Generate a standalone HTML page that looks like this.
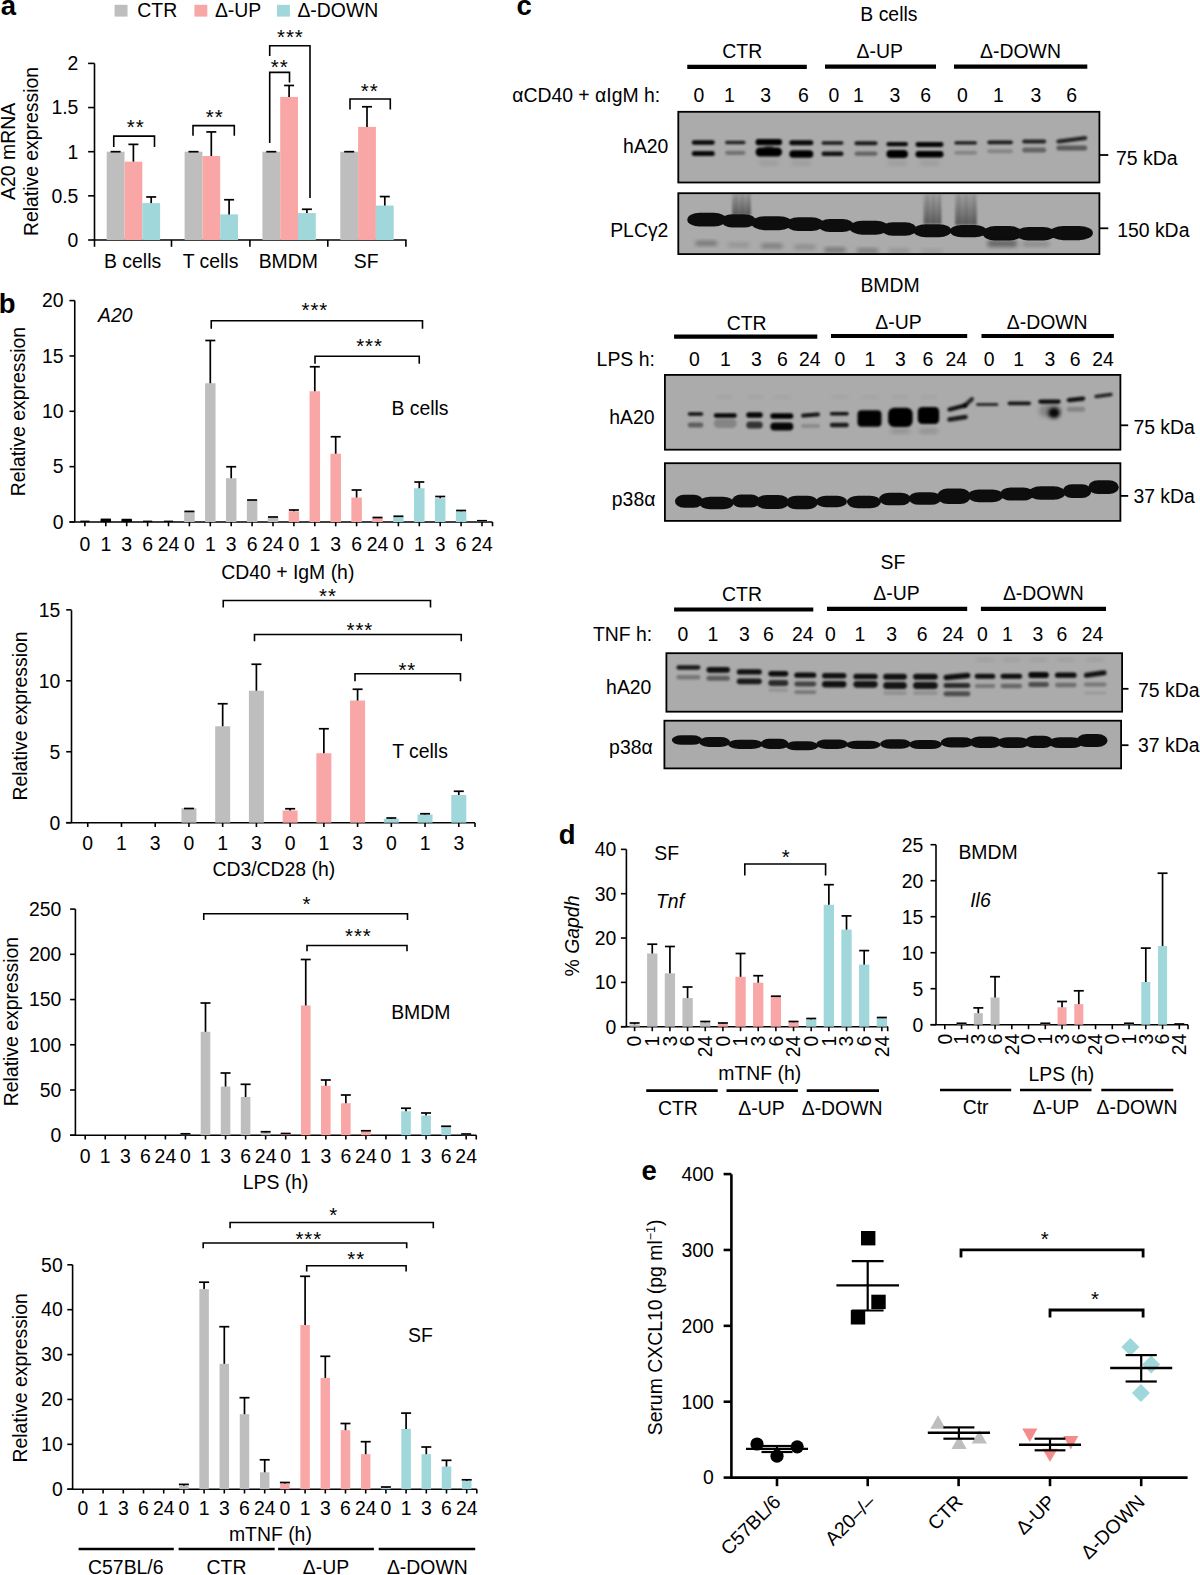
<!DOCTYPE html><html><head><meta charset="utf-8"><style>html,body{margin:0;padding:0;background:#fff;}svg{display:block;}text{font-family:"Liberation Sans",sans-serif;font-size:19.4px;fill:#000;}</style></head><body>
<svg width="1200" height="1575" viewBox="0 0 1200 1575">
<defs><filter id="bl" x="-20%" y="-50%" width="140%" height="200%"><feGaussianBlur stdDeviation="1.2"/></filter><filter id="bl2" x="-20%" y="-50%" width="140%" height="200%"><feGaussianBlur stdDeviation="2"/></filter><filter id="bl3" x="-20%" y="-50%" width="140%" height="200%"><feGaussianBlur stdDeviation="0.7"/></filter></defs>
<rect width="1200" height="1575" fill="#fff"/>
<text x="0.80" y="14.80" style="font-size:27.5px" font-weight="bold">a</text>
<text x="-1.20" y="312.50" style="font-size:27.5px" font-weight="bold">b</text>
<text x="516.60" y="14.80" style="font-size:27.5px" font-weight="bold">c</text>
<text x="558.80" y="843.50" style="font-size:27.5px" font-weight="bold">d</text>
<text x="641.50" y="1179.70" style="font-size:27.5px" font-weight="bold">e</text>
<rect x="114.60" y="4.80" width="12.90" height="11.80" fill="#bebebe"/>
<text x="137.30" y="16.70">CTR</text>
<rect x="194.40" y="4.80" width="12.90" height="11.80" fill="#f8a6a6"/>
<text x="214.90" y="16.70">Δ-UP</text>
<rect x="277.00" y="4.80" width="12.90" height="11.80" fill="#a0d7db"/>
<text x="297.40" y="16.70">Δ-DOWN</text>
<line x1="94.50" y1="240.00" x2="94.50" y2="63.40" stroke="#000" stroke-width="1.6"/>
<line x1="88.10" y1="240.00" x2="94.50" y2="240.00" stroke="#000" stroke-width="1.6"/>
<text x="78.40" y="246.80" text-anchor="end">0</text>
<line x1="88.10" y1="195.85" x2="94.50" y2="195.85" stroke="#000" stroke-width="1.6"/>
<text x="78.40" y="202.65" text-anchor="end">0.5</text>
<line x1="88.10" y1="151.70" x2="94.50" y2="151.70" stroke="#000" stroke-width="1.6"/>
<text x="78.40" y="158.50" text-anchor="end">1</text>
<line x1="88.10" y1="107.55" x2="94.50" y2="107.55" stroke="#000" stroke-width="1.6"/>
<text x="78.40" y="114.35" text-anchor="end">1.5</text>
<line x1="88.10" y1="63.40" x2="94.50" y2="63.40" stroke="#000" stroke-width="1.6"/>
<text x="78.40" y="70.20" text-anchor="end">2</text>
<line x1="94.50" y1="240.00" x2="406.60" y2="240.00" stroke="#000" stroke-width="1.6"/>
<line x1="94.50" y1="240.00" x2="94.50" y2="246.80" stroke="#000" stroke-width="1.6"/>
<line x1="171.50" y1="240.00" x2="171.50" y2="246.80" stroke="#000" stroke-width="1.6"/>
<line x1="249.90" y1="240.00" x2="249.90" y2="246.80" stroke="#000" stroke-width="1.6"/>
<line x1="327.80" y1="240.00" x2="327.80" y2="246.80" stroke="#000" stroke-width="1.6"/>
<line x1="405.90" y1="240.00" x2="405.90" y2="246.80" stroke="#000" stroke-width="1.6"/>
<rect x="106.70" y="151.70" width="17.80" height="88.30" fill="#bebebe"/>
<line x1="110.60" y1="151.70" x2="120.60" y2="151.70" stroke="#000" stroke-width="1.7"/>
<rect x="124.50" y="161.68" width="17.80" height="78.32" fill="#f8a6a6"/>
<line x1="133.40" y1="161.68" x2="133.40" y2="144.37" stroke="#000" stroke-width="1.7"/>
<line x1="128.40" y1="144.37" x2="138.40" y2="144.37" stroke="#000" stroke-width="1.7"/>
<rect x="142.30" y="203.09" width="17.80" height="36.91" fill="#a0d7db"/>
<line x1="151.20" y1="203.09" x2="151.20" y2="196.95" stroke="#000" stroke-width="1.7"/>
<line x1="146.20" y1="196.95" x2="156.20" y2="196.95" stroke="#000" stroke-width="1.7"/>
<rect x="184.60" y="151.70" width="17.80" height="88.30" fill="#bebebe"/>
<line x1="188.50" y1="151.70" x2="198.50" y2="151.70" stroke="#000" stroke-width="1.7"/>
<rect x="202.40" y="156.03" width="17.80" height="83.97" fill="#f8a6a6"/>
<line x1="211.30" y1="156.03" x2="211.30" y2="131.92" stroke="#000" stroke-width="1.7"/>
<line x1="206.30" y1="131.92" x2="216.30" y2="131.92" stroke="#000" stroke-width="1.7"/>
<rect x="220.20" y="214.39" width="17.80" height="25.61" fill="#a0d7db"/>
<line x1="229.10" y1="214.39" x2="229.10" y2="199.74" stroke="#000" stroke-width="1.7"/>
<line x1="224.10" y1="199.74" x2="234.10" y2="199.74" stroke="#000" stroke-width="1.7"/>
<rect x="262.40" y="151.70" width="17.80" height="88.30" fill="#bebebe"/>
<line x1="266.30" y1="151.70" x2="276.30" y2="151.70" stroke="#000" stroke-width="1.7"/>
<rect x="280.20" y="96.95" width="17.80" height="143.05" fill="#f8a6a6"/>
<line x1="289.10" y1="96.95" x2="289.10" y2="85.47" stroke="#000" stroke-width="1.7"/>
<line x1="284.10" y1="85.47" x2="294.10" y2="85.47" stroke="#000" stroke-width="1.7"/>
<rect x="298.00" y="213.07" width="17.80" height="26.93" fill="#a0d7db"/>
<line x1="306.90" y1="213.07" x2="306.90" y2="209.27" stroke="#000" stroke-width="1.7"/>
<line x1="301.90" y1="209.27" x2="311.90" y2="209.27" stroke="#000" stroke-width="1.7"/>
<rect x="340.30" y="151.70" width="17.80" height="88.30" fill="#bebebe"/>
<line x1="344.20" y1="151.70" x2="354.20" y2="151.70" stroke="#000" stroke-width="1.7"/>
<rect x="358.10" y="126.89" width="17.80" height="113.11" fill="#f8a6a6"/>
<line x1="367.00" y1="126.89" x2="367.00" y2="106.76" stroke="#000" stroke-width="1.7"/>
<line x1="362.00" y1="106.76" x2="372.00" y2="106.76" stroke="#000" stroke-width="1.7"/>
<rect x="375.90" y="205.56" width="17.80" height="34.44" fill="#a0d7db"/>
<line x1="384.80" y1="205.56" x2="384.80" y2="196.56" stroke="#000" stroke-width="1.7"/>
<line x1="379.80" y1="196.56" x2="389.80" y2="196.56" stroke="#000" stroke-width="1.7"/>
<text x="132.60" y="268.30" text-anchor="middle">B cells</text>
<text x="210.50" y="268.30" text-anchor="middle">T cells</text>
<text x="288.30" y="268.30" text-anchor="middle">BMDM</text>
<text x="366.20" y="268.30" text-anchor="middle">SF</text>
<text x="15.00" y="151.40" text-anchor="middle" transform="rotate(-90 15.00 151.40)">A20 mRNA</text>
<text x="38.00" y="151.50" text-anchor="middle" transform="rotate(-90 38.00 151.50)">Relative expression</text>
<path d="M113.75 147.00V136.10H154.50V147.00" stroke="#000" stroke-width="1.6" fill="none"/>
<text x="135.65" y="134.14" style="font-size:20.5px" text-anchor="middle" letter-spacing="0.9">**</text>
<path d="M193.00 135.70V125.60H234.30V135.70" stroke="#000" stroke-width="1.6" fill="none"/>
<text x="214.65" y="123.94" style="font-size:20.5px" text-anchor="middle" letter-spacing="0.9">**</text>
<path d="M269.70 56.00V45.80H310.00V197.90" stroke="#000" stroke-width="1.6" fill="none"/>
<text x="290.35" y="44.34" style="font-size:20.5px" text-anchor="middle" letter-spacing="0.9">***</text>
<path d="M269.70 142.90V72.40H289.50V82.50" stroke="#000" stroke-width="1.6" fill="none"/>
<text x="279.75" y="73.64" style="font-size:20.5px" text-anchor="middle" letter-spacing="0.9">**</text>
<path d="M350.00 109.50V99.00H390.30V109.50" stroke="#000" stroke-width="1.6" fill="none"/>
<text x="369.65" y="98.14" style="font-size:20.5px" text-anchor="middle" letter-spacing="0.9">**</text>
<line x1="74.75" y1="522.00" x2="74.75" y2="300.60" stroke="#000" stroke-width="1.6"/>
<line x1="69.45" y1="522.00" x2="74.75" y2="522.00" stroke="#000" stroke-width="1.6"/>
<text x="63.50" y="528.80" text-anchor="end">0</text>
<line x1="69.45" y1="466.65" x2="74.75" y2="466.65" stroke="#000" stroke-width="1.6"/>
<text x="63.50" y="473.45" text-anchor="end">5</text>
<line x1="69.45" y1="411.30" x2="74.75" y2="411.30" stroke="#000" stroke-width="1.6"/>
<text x="63.50" y="418.10" text-anchor="end">10</text>
<line x1="69.45" y1="355.95" x2="74.75" y2="355.95" stroke="#000" stroke-width="1.6"/>
<text x="63.50" y="362.75" text-anchor="end">15</text>
<line x1="69.45" y1="300.60" x2="74.75" y2="300.60" stroke="#000" stroke-width="1.6"/>
<text x="63.50" y="307.40" text-anchor="end">20</text>
<line x1="69.45" y1="522.00" x2="492.50" y2="522.00" stroke="#000" stroke-width="1.6"/>
<line x1="84.90" y1="522.00" x2="84.90" y2="526.30" stroke="#000" stroke-width="1.6"/>
<line x1="105.80" y1="522.00" x2="105.80" y2="526.30" stroke="#000" stroke-width="1.6"/>
<line x1="126.70" y1="522.00" x2="126.70" y2="526.30" stroke="#000" stroke-width="1.6"/>
<line x1="147.60" y1="522.00" x2="147.60" y2="526.30" stroke="#000" stroke-width="1.6"/>
<line x1="168.50" y1="522.00" x2="168.50" y2="526.30" stroke="#000" stroke-width="1.6"/>
<line x1="189.40" y1="522.00" x2="189.40" y2="526.30" stroke="#000" stroke-width="1.6"/>
<line x1="210.30" y1="522.00" x2="210.30" y2="526.30" stroke="#000" stroke-width="1.6"/>
<line x1="231.20" y1="522.00" x2="231.20" y2="526.30" stroke="#000" stroke-width="1.6"/>
<line x1="252.10" y1="522.00" x2="252.10" y2="526.30" stroke="#000" stroke-width="1.6"/>
<line x1="273.00" y1="522.00" x2="273.00" y2="526.30" stroke="#000" stroke-width="1.6"/>
<line x1="293.90" y1="522.00" x2="293.90" y2="526.30" stroke="#000" stroke-width="1.6"/>
<line x1="314.80" y1="522.00" x2="314.80" y2="526.30" stroke="#000" stroke-width="1.6"/>
<line x1="335.70" y1="522.00" x2="335.70" y2="526.30" stroke="#000" stroke-width="1.6"/>
<line x1="356.60" y1="522.00" x2="356.60" y2="526.30" stroke="#000" stroke-width="1.6"/>
<line x1="377.50" y1="522.00" x2="377.50" y2="526.30" stroke="#000" stroke-width="1.6"/>
<line x1="398.40" y1="522.00" x2="398.40" y2="526.30" stroke="#000" stroke-width="1.6"/>
<line x1="419.30" y1="522.00" x2="419.30" y2="526.30" stroke="#000" stroke-width="1.6"/>
<line x1="440.20" y1="522.00" x2="440.20" y2="526.30" stroke="#000" stroke-width="1.6"/>
<line x1="461.10" y1="522.00" x2="461.10" y2="526.30" stroke="#000" stroke-width="1.6"/>
<line x1="482.00" y1="522.00" x2="482.00" y2="526.30" stroke="#000" stroke-width="1.6"/>
<line x1="492.50" y1="522.00" x2="492.50" y2="526.30" stroke="#000" stroke-width="1.6"/>
<rect x="100.55" y="519.40" width="10.50" height="2.60" fill="#000"/>
<line x1="100.80" y1="519.40" x2="110.80" y2="519.40" stroke="#000" stroke-width="1.7"/>
<rect x="121.45" y="519.60" width="10.50" height="2.40" fill="#000"/>
<line x1="121.70" y1="519.60" x2="131.70" y2="519.60" stroke="#000" stroke-width="1.7"/>
<rect x="184.15" y="511.40" width="10.50" height="10.60" fill="#bebebe"/>
<line x1="184.40" y1="511.40" x2="194.40" y2="511.40" stroke="#000" stroke-width="1.7"/>
<rect x="205.05" y="383.25" width="10.50" height="138.75" fill="#bebebe"/>
<line x1="210.30" y1="383.25" x2="210.30" y2="340.50" stroke="#000" stroke-width="1.7"/>
<line x1="205.30" y1="340.50" x2="215.30" y2="340.50" stroke="#000" stroke-width="1.7"/>
<rect x="225.95" y="478.25" width="10.50" height="43.75" fill="#bebebe"/>
<line x1="231.20" y1="478.25" x2="231.20" y2="466.75" stroke="#000" stroke-width="1.7"/>
<line x1="226.20" y1="466.75" x2="236.20" y2="466.75" stroke="#000" stroke-width="1.7"/>
<rect x="246.85" y="500.00" width="10.50" height="22.00" fill="#bebebe"/>
<line x1="247.10" y1="500.00" x2="257.10" y2="500.00" stroke="#000" stroke-width="1.7"/>
<rect x="267.75" y="517.50" width="10.50" height="4.50" fill="#bebebe"/>
<line x1="268.00" y1="517.00" x2="278.00" y2="517.00" stroke="#000" stroke-width="1.7"/>
<rect x="288.65" y="511.25" width="10.50" height="10.75" fill="#f8a6a6"/>
<line x1="293.90" y1="511.25" x2="293.90" y2="510.00" stroke="#000" stroke-width="1.7"/>
<line x1="288.90" y1="510.00" x2="298.90" y2="510.00" stroke="#000" stroke-width="1.7"/>
<rect x="309.55" y="391.25" width="10.50" height="130.75" fill="#f8a6a6"/>
<line x1="314.80" y1="391.25" x2="314.80" y2="366.75" stroke="#000" stroke-width="1.7"/>
<line x1="309.80" y1="366.75" x2="319.80" y2="366.75" stroke="#000" stroke-width="1.7"/>
<rect x="330.45" y="453.75" width="10.50" height="68.25" fill="#f8a6a6"/>
<line x1="335.70" y1="453.75" x2="335.70" y2="436.75" stroke="#000" stroke-width="1.7"/>
<line x1="330.70" y1="436.75" x2="340.70" y2="436.75" stroke="#000" stroke-width="1.7"/>
<rect x="351.35" y="497.50" width="10.50" height="24.50" fill="#f8a6a6"/>
<line x1="356.60" y1="497.50" x2="356.60" y2="490.00" stroke="#000" stroke-width="1.7"/>
<line x1="351.60" y1="490.00" x2="361.60" y2="490.00" stroke="#000" stroke-width="1.7"/>
<rect x="372.25" y="518.00" width="10.50" height="4.00" fill="#f8a6a6"/>
<line x1="372.50" y1="517.50" x2="382.50" y2="517.50" stroke="#000" stroke-width="1.7"/>
<rect x="393.15" y="517.00" width="10.50" height="5.00" fill="#a0d7db"/>
<line x1="398.40" y1="517.00" x2="398.40" y2="516.25" stroke="#000" stroke-width="1.7"/>
<line x1="393.40" y1="516.25" x2="403.40" y2="516.25" stroke="#000" stroke-width="1.7"/>
<rect x="414.05" y="488.25" width="10.50" height="33.75" fill="#a0d7db"/>
<line x1="419.30" y1="488.25" x2="419.30" y2="482.00" stroke="#000" stroke-width="1.7"/>
<line x1="414.30" y1="482.00" x2="424.30" y2="482.00" stroke="#000" stroke-width="1.7"/>
<rect x="434.95" y="498.25" width="10.50" height="23.75" fill="#a0d7db"/>
<line x1="440.20" y1="498.25" x2="440.20" y2="496.50" stroke="#000" stroke-width="1.7"/>
<line x1="435.20" y1="496.50" x2="445.20" y2="496.50" stroke="#000" stroke-width="1.7"/>
<rect x="455.85" y="511.25" width="10.50" height="10.75" fill="#a0d7db"/>
<line x1="461.10" y1="511.25" x2="461.10" y2="510.50" stroke="#000" stroke-width="1.7"/>
<line x1="456.10" y1="510.50" x2="466.10" y2="510.50" stroke="#000" stroke-width="1.7"/>
<rect x="476.75" y="521.25" width="10.50" height="0.75" fill="#a0d7db"/>
<line x1="477.00" y1="520.75" x2="487.00" y2="520.75" stroke="#000" stroke-width="1.7"/>
<text x="84.90" y="550.50" text-anchor="middle">0</text>
<text x="105.80" y="550.50" text-anchor="middle">1</text>
<text x="126.70" y="550.50" text-anchor="middle">3</text>
<text x="147.60" y="550.50" text-anchor="middle">6</text>
<text x="168.50" y="550.50" text-anchor="middle">24</text>
<text x="189.40" y="550.50" text-anchor="middle">0</text>
<text x="210.30" y="550.50" text-anchor="middle">1</text>
<text x="231.20" y="550.50" text-anchor="middle">3</text>
<text x="252.10" y="550.50" text-anchor="middle">6</text>
<text x="273.00" y="550.50" text-anchor="middle">24</text>
<text x="293.90" y="550.50" text-anchor="middle">0</text>
<text x="314.80" y="550.50" text-anchor="middle">1</text>
<text x="335.70" y="550.50" text-anchor="middle">3</text>
<text x="356.60" y="550.50" text-anchor="middle">6</text>
<text x="377.50" y="550.50" text-anchor="middle">24</text>
<text x="398.40" y="550.50" text-anchor="middle">0</text>
<text x="419.30" y="550.50" text-anchor="middle">1</text>
<text x="440.20" y="550.50" text-anchor="middle">3</text>
<text x="461.10" y="550.50" text-anchor="middle">6</text>
<text x="482.00" y="550.50" text-anchor="middle">24</text>
<text x="25.50" y="411.60" text-anchor="middle" transform="rotate(-90 25.50 411.60)">Relative expression</text>
<rect x="101.20" y="519.30" width="9.20" height="2.80" fill="#000"/>
<rect x="122.10" y="519.30" width="9.20" height="2.80" fill="#000"/>
<rect x="80.30" y="520.60" width="9.20" height="1.40" fill="#000"/>
<rect x="143.00" y="520.60" width="9.20" height="1.40" fill="#000"/>
<rect x="163.90" y="520.60" width="9.20" height="1.40" fill="#000"/>
<text x="98.00" y="321.50" font-style="italic">A20</text>
<text x="420.00" y="415.00" text-anchor="middle">B cells</text>
<text x="287.80" y="578.60" text-anchor="middle">CD40 + IgM (h)</text>
<path d="M211.25 328.75V320.75H422.50V328.75" stroke="#000" stroke-width="1.6" fill="none"/>
<text x="314.85" y="317.04" style="font-size:20.5px" text-anchor="middle" letter-spacing="0.9">***</text>
<path d="M315.00 363.75V356.25H419.25V363.75" stroke="#000" stroke-width="1.6" fill="none"/>
<text x="369.55" y="353.34" style="font-size:20.5px" text-anchor="middle" letter-spacing="0.9">***</text>
<line x1="71.50" y1="822.70" x2="71.50" y2="610.20" stroke="#000" stroke-width="1.6"/>
<line x1="66.20" y1="822.70" x2="71.50" y2="822.70" stroke="#000" stroke-width="1.6"/>
<text x="60.30" y="829.50" text-anchor="end">0</text>
<line x1="66.20" y1="751.75" x2="71.50" y2="751.75" stroke="#000" stroke-width="1.6"/>
<text x="60.30" y="758.55" text-anchor="end">5</text>
<line x1="66.20" y1="680.80" x2="71.50" y2="680.80" stroke="#000" stroke-width="1.6"/>
<text x="60.30" y="687.60" text-anchor="end">10</text>
<line x1="66.20" y1="609.85" x2="71.50" y2="609.85" stroke="#000" stroke-width="1.6"/>
<text x="60.30" y="616.65" text-anchor="end">15</text>
<line x1="66.20" y1="822.70" x2="475.00" y2="822.70" stroke="#000" stroke-width="1.6"/>
<line x1="87.75" y1="822.70" x2="87.75" y2="827.00" stroke="#000" stroke-width="1.6"/>
<line x1="121.48" y1="822.70" x2="121.48" y2="827.00" stroke="#000" stroke-width="1.6"/>
<line x1="155.21" y1="822.70" x2="155.21" y2="827.00" stroke="#000" stroke-width="1.6"/>
<line x1="188.94" y1="822.70" x2="188.94" y2="827.00" stroke="#000" stroke-width="1.6"/>
<line x1="222.67" y1="822.70" x2="222.67" y2="827.00" stroke="#000" stroke-width="1.6"/>
<line x1="256.40" y1="822.70" x2="256.40" y2="827.00" stroke="#000" stroke-width="1.6"/>
<line x1="290.13" y1="822.70" x2="290.13" y2="827.00" stroke="#000" stroke-width="1.6"/>
<line x1="323.86" y1="822.70" x2="323.86" y2="827.00" stroke="#000" stroke-width="1.6"/>
<line x1="357.59" y1="822.70" x2="357.59" y2="827.00" stroke="#000" stroke-width="1.6"/>
<line x1="391.32" y1="822.70" x2="391.32" y2="827.00" stroke="#000" stroke-width="1.6"/>
<line x1="425.05" y1="822.70" x2="425.05" y2="827.00" stroke="#000" stroke-width="1.6"/>
<line x1="458.78" y1="822.70" x2="458.78" y2="827.00" stroke="#000" stroke-width="1.6"/>
<line x1="475.00" y1="822.70" x2="475.00" y2="827.00" stroke="#000" stroke-width="1.6"/>
<rect x="181.44" y="808.20" width="15.00" height="14.50" fill="#bebebe"/>
<line x1="183.94" y1="808.50" x2="193.94" y2="808.50" stroke="#000" stroke-width="1.7"/>
<rect x="215.17" y="726.25" width="15.00" height="96.45" fill="#bebebe"/>
<line x1="222.67" y1="726.25" x2="222.67" y2="703.75" stroke="#000" stroke-width="1.7"/>
<line x1="217.67" y1="703.75" x2="227.67" y2="703.75" stroke="#000" stroke-width="1.7"/>
<rect x="248.90" y="690.75" width="15.00" height="131.95" fill="#bebebe"/>
<line x1="256.40" y1="690.75" x2="256.40" y2="664.25" stroke="#000" stroke-width="1.7"/>
<line x1="251.40" y1="664.25" x2="261.40" y2="664.25" stroke="#000" stroke-width="1.7"/>
<rect x="282.63" y="810.50" width="15.00" height="12.20" fill="#f8a6a6"/>
<line x1="290.13" y1="810.50" x2="290.13" y2="808.75" stroke="#000" stroke-width="1.7"/>
<line x1="285.13" y1="808.75" x2="295.13" y2="808.75" stroke="#000" stroke-width="1.7"/>
<rect x="316.36" y="753.25" width="15.00" height="69.45" fill="#f8a6a6"/>
<line x1="323.86" y1="753.25" x2="323.86" y2="728.75" stroke="#000" stroke-width="1.7"/>
<line x1="318.86" y1="728.75" x2="328.86" y2="728.75" stroke="#000" stroke-width="1.7"/>
<rect x="350.09" y="700.50" width="15.00" height="122.20" fill="#f8a6a6"/>
<line x1="357.59" y1="700.50" x2="357.59" y2="689.25" stroke="#000" stroke-width="1.7"/>
<line x1="352.59" y1="689.25" x2="362.59" y2="689.25" stroke="#000" stroke-width="1.7"/>
<rect x="383.82" y="818.75" width="15.00" height="3.95" fill="#a0d7db"/>
<line x1="391.32" y1="818.75" x2="391.32" y2="818.00" stroke="#000" stroke-width="1.7"/>
<line x1="386.32" y1="818.00" x2="396.32" y2="818.00" stroke="#000" stroke-width="1.7"/>
<rect x="417.55" y="814.50" width="15.00" height="8.20" fill="#a0d7db"/>
<line x1="425.05" y1="814.50" x2="425.05" y2="813.75" stroke="#000" stroke-width="1.7"/>
<line x1="420.05" y1="813.75" x2="430.05" y2="813.75" stroke="#000" stroke-width="1.7"/>
<rect x="451.28" y="795.00" width="15.00" height="27.70" fill="#a0d7db"/>
<line x1="458.78" y1="795.00" x2="458.78" y2="791.25" stroke="#000" stroke-width="1.7"/>
<line x1="453.78" y1="791.25" x2="463.78" y2="791.25" stroke="#000" stroke-width="1.7"/>
<text x="87.75" y="850.00" text-anchor="middle">0</text>
<text x="121.48" y="850.00" text-anchor="middle">1</text>
<text x="155.21" y="850.00" text-anchor="middle">3</text>
<text x="188.94" y="850.00" text-anchor="middle">0</text>
<text x="222.67" y="850.00" text-anchor="middle">1</text>
<text x="256.40" y="850.00" text-anchor="middle">3</text>
<text x="290.13" y="850.00" text-anchor="middle">0</text>
<text x="323.86" y="850.00" text-anchor="middle">1</text>
<text x="357.59" y="850.00" text-anchor="middle">3</text>
<text x="391.32" y="850.00" text-anchor="middle">0</text>
<text x="425.05" y="850.00" text-anchor="middle">1</text>
<text x="458.78" y="850.00" text-anchor="middle">3</text>
<text x="27.00" y="716.00" text-anchor="middle" transform="rotate(-90 27.00 716.00)">Relative expression</text>
<text x="420.00" y="757.50" text-anchor="middle">T cells</text>
<text x="273.80" y="876.40" text-anchor="middle">CD3/CD28 (h)</text>
<path d="M223.25 607.50V600.50H430.50V607.50" stroke="#000" stroke-width="1.6" fill="none"/>
<text x="327.95" y="603.35" style="font-size:20.5px" text-anchor="middle" letter-spacing="0.9">**</text>
<path d="M254.50 641.25V634.50H461.25V641.25" stroke="#000" stroke-width="1.6" fill="none"/>
<text x="359.85" y="637.05" style="font-size:20.5px" text-anchor="middle" letter-spacing="0.9">***</text>
<path d="M355.00 681.25V673.75H460.50V681.25" stroke="#000" stroke-width="1.6" fill="none"/>
<text x="407.35" y="676.55" style="font-size:20.5px" text-anchor="middle" letter-spacing="0.9">**</text>
<line x1="75.40" y1="1135.20" x2="75.40" y2="909.10" stroke="#000" stroke-width="1.6"/>
<line x1="70.10" y1="1135.20" x2="75.40" y2="1135.20" stroke="#000" stroke-width="1.6"/>
<text x="61.40" y="1142.00" text-anchor="end">0</text>
<line x1="70.10" y1="1089.98" x2="75.40" y2="1089.98" stroke="#000" stroke-width="1.6"/>
<text x="61.40" y="1096.78" text-anchor="end">50</text>
<line x1="70.10" y1="1044.76" x2="75.40" y2="1044.76" stroke="#000" stroke-width="1.6"/>
<text x="61.40" y="1051.56" text-anchor="end">100</text>
<line x1="70.10" y1="999.54" x2="75.40" y2="999.54" stroke="#000" stroke-width="1.6"/>
<text x="61.40" y="1006.34" text-anchor="end">150</text>
<line x1="70.10" y1="954.32" x2="75.40" y2="954.32" stroke="#000" stroke-width="1.6"/>
<text x="61.40" y="961.12" text-anchor="end">200</text>
<line x1="70.10" y1="909.10" x2="75.40" y2="909.10" stroke="#000" stroke-width="1.6"/>
<text x="61.40" y="915.90" text-anchor="end">250</text>
<line x1="70.10" y1="1135.20" x2="476.25" y2="1135.20" stroke="#000" stroke-width="1.6"/>
<line x1="85.20" y1="1135.20" x2="85.20" y2="1139.50" stroke="#000" stroke-width="1.6"/>
<line x1="105.25" y1="1135.20" x2="105.25" y2="1139.50" stroke="#000" stroke-width="1.6"/>
<line x1="125.30" y1="1135.20" x2="125.30" y2="1139.50" stroke="#000" stroke-width="1.6"/>
<line x1="145.35" y1="1135.20" x2="145.35" y2="1139.50" stroke="#000" stroke-width="1.6"/>
<line x1="165.40" y1="1135.20" x2="165.40" y2="1139.50" stroke="#000" stroke-width="1.6"/>
<line x1="185.45" y1="1135.20" x2="185.45" y2="1139.50" stroke="#000" stroke-width="1.6"/>
<line x1="205.50" y1="1135.20" x2="205.50" y2="1139.50" stroke="#000" stroke-width="1.6"/>
<line x1="225.55" y1="1135.20" x2="225.55" y2="1139.50" stroke="#000" stroke-width="1.6"/>
<line x1="245.60" y1="1135.20" x2="245.60" y2="1139.50" stroke="#000" stroke-width="1.6"/>
<line x1="265.65" y1="1135.20" x2="265.65" y2="1139.50" stroke="#000" stroke-width="1.6"/>
<line x1="285.70" y1="1135.20" x2="285.70" y2="1139.50" stroke="#000" stroke-width="1.6"/>
<line x1="305.75" y1="1135.20" x2="305.75" y2="1139.50" stroke="#000" stroke-width="1.6"/>
<line x1="325.80" y1="1135.20" x2="325.80" y2="1139.50" stroke="#000" stroke-width="1.6"/>
<line x1="345.85" y1="1135.20" x2="345.85" y2="1139.50" stroke="#000" stroke-width="1.6"/>
<line x1="365.90" y1="1135.20" x2="365.90" y2="1139.50" stroke="#000" stroke-width="1.6"/>
<line x1="385.95" y1="1135.20" x2="385.95" y2="1139.50" stroke="#000" stroke-width="1.6"/>
<line x1="406.00" y1="1135.20" x2="406.00" y2="1139.50" stroke="#000" stroke-width="1.6"/>
<line x1="426.05" y1="1135.20" x2="426.05" y2="1139.50" stroke="#000" stroke-width="1.6"/>
<line x1="446.10" y1="1135.20" x2="446.10" y2="1139.50" stroke="#000" stroke-width="1.6"/>
<line x1="466.15" y1="1135.20" x2="466.15" y2="1139.50" stroke="#000" stroke-width="1.6"/>
<line x1="476.25" y1="1135.20" x2="476.25" y2="1139.50" stroke="#000" stroke-width="1.6"/>
<rect x="180.65" y="1134.50" width="9.60" height="0.70" fill="#bebebe"/>
<line x1="185.45" y1="1134.50" x2="185.45" y2="1133.80" stroke="#000" stroke-width="1.7"/>
<line x1="180.45" y1="1133.80" x2="190.45" y2="1133.80" stroke="#000" stroke-width="1.7"/>
<rect x="200.70" y="1031.80" width="9.60" height="103.40" fill="#bebebe"/>
<line x1="205.50" y1="1031.80" x2="205.50" y2="1003.00" stroke="#000" stroke-width="1.7"/>
<line x1="200.50" y1="1003.00" x2="210.50" y2="1003.00" stroke="#000" stroke-width="1.7"/>
<rect x="220.75" y="1086.60" width="9.60" height="48.60" fill="#bebebe"/>
<line x1="225.55" y1="1086.60" x2="225.55" y2="1073.00" stroke="#000" stroke-width="1.7"/>
<line x1="220.55" y1="1073.00" x2="230.55" y2="1073.00" stroke="#000" stroke-width="1.7"/>
<rect x="240.80" y="1097.00" width="9.60" height="38.20" fill="#bebebe"/>
<line x1="245.60" y1="1097.00" x2="245.60" y2="1084.30" stroke="#000" stroke-width="1.7"/>
<line x1="240.60" y1="1084.30" x2="250.60" y2="1084.30" stroke="#000" stroke-width="1.7"/>
<rect x="260.85" y="1132.50" width="9.60" height="2.70" fill="#bebebe"/>
<line x1="265.65" y1="1132.50" x2="265.65" y2="1131.75" stroke="#000" stroke-width="1.7"/>
<line x1="260.65" y1="1131.75" x2="270.65" y2="1131.75" stroke="#000" stroke-width="1.7"/>
<rect x="280.90" y="1133.75" width="9.60" height="1.45" fill="#f8a6a6"/>
<line x1="280.70" y1="1133.50" x2="290.70" y2="1133.50" stroke="#000" stroke-width="1.7"/>
<rect x="300.95" y="1005.50" width="9.60" height="129.70" fill="#f8a6a6"/>
<line x1="305.75" y1="1005.50" x2="305.75" y2="959.50" stroke="#000" stroke-width="1.7"/>
<line x1="300.75" y1="959.50" x2="310.75" y2="959.50" stroke="#000" stroke-width="1.7"/>
<rect x="321.00" y="1085.75" width="9.60" height="49.45" fill="#f8a6a6"/>
<line x1="325.80" y1="1085.75" x2="325.80" y2="1080.00" stroke="#000" stroke-width="1.7"/>
<line x1="320.80" y1="1080.00" x2="330.80" y2="1080.00" stroke="#000" stroke-width="1.7"/>
<rect x="341.05" y="1103.25" width="9.60" height="31.95" fill="#f8a6a6"/>
<line x1="345.85" y1="1103.25" x2="345.85" y2="1095.00" stroke="#000" stroke-width="1.7"/>
<line x1="340.85" y1="1095.00" x2="350.85" y2="1095.00" stroke="#000" stroke-width="1.7"/>
<rect x="361.10" y="1131.25" width="9.60" height="3.95" fill="#f8a6a6"/>
<line x1="360.90" y1="1130.75" x2="370.90" y2="1130.75" stroke="#000" stroke-width="1.7"/>
<rect x="401.20" y="1111.25" width="9.60" height="23.95" fill="#a0d7db"/>
<line x1="406.00" y1="1111.25" x2="406.00" y2="1108.25" stroke="#000" stroke-width="1.7"/>
<line x1="401.00" y1="1108.25" x2="411.00" y2="1108.25" stroke="#000" stroke-width="1.7"/>
<rect x="421.25" y="1115.50" width="9.60" height="19.70" fill="#a0d7db"/>
<line x1="426.05" y1="1115.50" x2="426.05" y2="1113.00" stroke="#000" stroke-width="1.7"/>
<line x1="421.05" y1="1113.00" x2="431.05" y2="1113.00" stroke="#000" stroke-width="1.7"/>
<rect x="441.30" y="1127.00" width="9.60" height="8.20" fill="#a0d7db"/>
<line x1="446.10" y1="1127.00" x2="446.10" y2="1126.25" stroke="#000" stroke-width="1.7"/>
<line x1="441.10" y1="1126.25" x2="451.10" y2="1126.25" stroke="#000" stroke-width="1.7"/>
<rect x="461.35" y="1134.25" width="9.60" height="0.95" fill="#a0d7db"/>
<line x1="461.15" y1="1134.00" x2="471.15" y2="1134.00" stroke="#000" stroke-width="1.7"/>
<text x="85.20" y="1162.50" text-anchor="middle">0</text>
<text x="105.25" y="1162.50" text-anchor="middle">1</text>
<text x="125.30" y="1162.50" text-anchor="middle">3</text>
<text x="145.35" y="1162.50" text-anchor="middle">6</text>
<text x="165.40" y="1162.50" text-anchor="middle">24</text>
<text x="185.45" y="1162.50" text-anchor="middle">0</text>
<text x="205.50" y="1162.50" text-anchor="middle">1</text>
<text x="225.55" y="1162.50" text-anchor="middle">3</text>
<text x="245.60" y="1162.50" text-anchor="middle">6</text>
<text x="265.65" y="1162.50" text-anchor="middle">24</text>
<text x="285.70" y="1162.50" text-anchor="middle">0</text>
<text x="305.75" y="1162.50" text-anchor="middle">1</text>
<text x="325.80" y="1162.50" text-anchor="middle">3</text>
<text x="345.85" y="1162.50" text-anchor="middle">6</text>
<text x="365.90" y="1162.50" text-anchor="middle">24</text>
<text x="385.95" y="1162.50" text-anchor="middle">0</text>
<text x="406.00" y="1162.50" text-anchor="middle">1</text>
<text x="426.05" y="1162.50" text-anchor="middle">3</text>
<text x="446.10" y="1162.50" text-anchor="middle">6</text>
<text x="466.15" y="1162.50" text-anchor="middle">24</text>
<text x="18.40" y="1021.60" text-anchor="middle" transform="rotate(-90 18.40 1021.60)">Relative expression</text>
<text x="420.80" y="1019.30" text-anchor="middle">BMDM</text>
<text x="275.60" y="1189.00" text-anchor="middle">LPS (h)</text>
<path d="M203.75 920.00V913.75H407.50V920.00" stroke="#000" stroke-width="1.6" fill="none"/>
<text x="306.95" y="910.85" style="font-size:20.5px" text-anchor="middle" letter-spacing="0.9">*</text>
<path d="M307.00 951.25V945.50H407.00V951.25" stroke="#000" stroke-width="1.6" fill="none"/>
<text x="358.35" y="943.35" style="font-size:20.5px" text-anchor="middle" letter-spacing="0.9">***</text>
<line x1="72.60" y1="1489.20" x2="72.60" y2="1264.80" stroke="#000" stroke-width="1.6"/>
<line x1="67.30" y1="1489.20" x2="72.60" y2="1489.20" stroke="#000" stroke-width="1.6"/>
<text x="62.70" y="1496.00" text-anchor="end">0</text>
<line x1="67.30" y1="1444.32" x2="72.60" y2="1444.32" stroke="#000" stroke-width="1.6"/>
<text x="62.70" y="1451.12" text-anchor="end">10</text>
<line x1="67.30" y1="1399.44" x2="72.60" y2="1399.44" stroke="#000" stroke-width="1.6"/>
<text x="62.70" y="1406.24" text-anchor="end">20</text>
<line x1="67.30" y1="1354.56" x2="72.60" y2="1354.56" stroke="#000" stroke-width="1.6"/>
<text x="62.70" y="1361.36" text-anchor="end">30</text>
<line x1="67.30" y1="1309.68" x2="72.60" y2="1309.68" stroke="#000" stroke-width="1.6"/>
<text x="62.70" y="1316.48" text-anchor="end">40</text>
<line x1="67.30" y1="1264.80" x2="72.60" y2="1264.80" stroke="#000" stroke-width="1.6"/>
<text x="62.70" y="1271.60" text-anchor="end">50</text>
<line x1="67.30" y1="1489.20" x2="476.80" y2="1489.20" stroke="#000" stroke-width="1.6"/>
<line x1="82.90" y1="1489.20" x2="82.90" y2="1493.50" stroke="#000" stroke-width="1.6"/>
<line x1="103.10" y1="1489.20" x2="103.10" y2="1493.50" stroke="#000" stroke-width="1.6"/>
<line x1="123.30" y1="1489.20" x2="123.30" y2="1493.50" stroke="#000" stroke-width="1.6"/>
<line x1="143.50" y1="1489.20" x2="143.50" y2="1493.50" stroke="#000" stroke-width="1.6"/>
<line x1="163.70" y1="1489.20" x2="163.70" y2="1493.50" stroke="#000" stroke-width="1.6"/>
<line x1="183.90" y1="1489.20" x2="183.90" y2="1493.50" stroke="#000" stroke-width="1.6"/>
<line x1="204.10" y1="1489.20" x2="204.10" y2="1493.50" stroke="#000" stroke-width="1.6"/>
<line x1="224.30" y1="1489.20" x2="224.30" y2="1493.50" stroke="#000" stroke-width="1.6"/>
<line x1="244.50" y1="1489.20" x2="244.50" y2="1493.50" stroke="#000" stroke-width="1.6"/>
<line x1="264.70" y1="1489.20" x2="264.70" y2="1493.50" stroke="#000" stroke-width="1.6"/>
<line x1="284.90" y1="1489.20" x2="284.90" y2="1493.50" stroke="#000" stroke-width="1.6"/>
<line x1="305.10" y1="1489.20" x2="305.10" y2="1493.50" stroke="#000" stroke-width="1.6"/>
<line x1="325.30" y1="1489.20" x2="325.30" y2="1493.50" stroke="#000" stroke-width="1.6"/>
<line x1="345.50" y1="1489.20" x2="345.50" y2="1493.50" stroke="#000" stroke-width="1.6"/>
<line x1="365.70" y1="1489.20" x2="365.70" y2="1493.50" stroke="#000" stroke-width="1.6"/>
<line x1="385.90" y1="1489.20" x2="385.90" y2="1493.50" stroke="#000" stroke-width="1.6"/>
<line x1="406.10" y1="1489.20" x2="406.10" y2="1493.50" stroke="#000" stroke-width="1.6"/>
<line x1="426.30" y1="1489.20" x2="426.30" y2="1493.50" stroke="#000" stroke-width="1.6"/>
<line x1="446.50" y1="1489.20" x2="446.50" y2="1493.50" stroke="#000" stroke-width="1.6"/>
<line x1="466.70" y1="1489.20" x2="466.70" y2="1493.50" stroke="#000" stroke-width="1.6"/>
<line x1="476.80" y1="1489.20" x2="476.80" y2="1493.50" stroke="#000" stroke-width="1.6"/>
<rect x="179.15" y="1485.70" width="9.50" height="3.50" fill="#bebebe"/>
<line x1="183.90" y1="1485.70" x2="183.90" y2="1484.40" stroke="#000" stroke-width="1.7"/>
<line x1="178.90" y1="1484.40" x2="188.90" y2="1484.40" stroke="#000" stroke-width="1.7"/>
<rect x="199.35" y="1289.10" width="9.50" height="200.10" fill="#bebebe"/>
<line x1="204.10" y1="1289.10" x2="204.10" y2="1282.20" stroke="#000" stroke-width="1.7"/>
<line x1="199.10" y1="1282.20" x2="209.10" y2="1282.20" stroke="#000" stroke-width="1.7"/>
<rect x="219.55" y="1363.80" width="9.50" height="125.40" fill="#bebebe"/>
<line x1="224.30" y1="1363.80" x2="224.30" y2="1326.70" stroke="#000" stroke-width="1.7"/>
<line x1="219.30" y1="1326.70" x2="229.30" y2="1326.70" stroke="#000" stroke-width="1.7"/>
<rect x="239.75" y="1414.20" width="9.50" height="75.00" fill="#bebebe"/>
<line x1="244.50" y1="1414.20" x2="244.50" y2="1397.70" stroke="#000" stroke-width="1.7"/>
<line x1="239.50" y1="1397.70" x2="249.50" y2="1397.70" stroke="#000" stroke-width="1.7"/>
<rect x="259.95" y="1472.30" width="9.50" height="16.90" fill="#bebebe"/>
<line x1="264.70" y1="1472.30" x2="264.70" y2="1459.80" stroke="#000" stroke-width="1.7"/>
<line x1="259.70" y1="1459.80" x2="269.70" y2="1459.80" stroke="#000" stroke-width="1.7"/>
<rect x="280.15" y="1483.50" width="9.50" height="5.70" fill="#f8a6a6"/>
<line x1="284.90" y1="1483.50" x2="284.90" y2="1482.50" stroke="#000" stroke-width="1.7"/>
<line x1="279.90" y1="1482.50" x2="289.90" y2="1482.50" stroke="#000" stroke-width="1.7"/>
<rect x="300.35" y="1325.10" width="9.50" height="164.10" fill="#f8a6a6"/>
<line x1="305.10" y1="1325.10" x2="305.10" y2="1276.30" stroke="#000" stroke-width="1.7"/>
<line x1="300.10" y1="1276.30" x2="310.10" y2="1276.30" stroke="#000" stroke-width="1.7"/>
<rect x="320.55" y="1377.90" width="9.50" height="111.30" fill="#f8a6a6"/>
<line x1="325.30" y1="1377.90" x2="325.30" y2="1356.30" stroke="#000" stroke-width="1.7"/>
<line x1="320.30" y1="1356.30" x2="330.30" y2="1356.30" stroke="#000" stroke-width="1.7"/>
<rect x="340.75" y="1430.20" width="9.50" height="59.00" fill="#f8a6a6"/>
<line x1="345.50" y1="1430.20" x2="345.50" y2="1423.50" stroke="#000" stroke-width="1.7"/>
<line x1="340.50" y1="1423.50" x2="350.50" y2="1423.50" stroke="#000" stroke-width="1.7"/>
<rect x="360.95" y="1454.20" width="9.50" height="35.00" fill="#f8a6a6"/>
<line x1="365.70" y1="1454.20" x2="365.70" y2="1441.70" stroke="#000" stroke-width="1.7"/>
<line x1="360.70" y1="1441.70" x2="370.70" y2="1441.70" stroke="#000" stroke-width="1.7"/>
<rect x="381.15" y="1487.80" width="9.50" height="1.40" fill="#a0d7db"/>
<line x1="385.90" y1="1487.80" x2="385.90" y2="1487.00" stroke="#000" stroke-width="1.7"/>
<line x1="380.90" y1="1487.00" x2="390.90" y2="1487.00" stroke="#000" stroke-width="1.7"/>
<rect x="401.35" y="1428.90" width="9.50" height="60.30" fill="#a0d7db"/>
<line x1="406.10" y1="1428.90" x2="406.10" y2="1413.10" stroke="#000" stroke-width="1.7"/>
<line x1="401.10" y1="1413.10" x2="411.10" y2="1413.10" stroke="#000" stroke-width="1.7"/>
<rect x="421.55" y="1454.20" width="9.50" height="35.00" fill="#a0d7db"/>
<line x1="426.30" y1="1454.20" x2="426.30" y2="1447.00" stroke="#000" stroke-width="1.7"/>
<line x1="421.30" y1="1447.00" x2="431.30" y2="1447.00" stroke="#000" stroke-width="1.7"/>
<rect x="441.75" y="1466.50" width="9.50" height="22.70" fill="#a0d7db"/>
<line x1="446.50" y1="1466.50" x2="446.50" y2="1460.30" stroke="#000" stroke-width="1.7"/>
<line x1="441.50" y1="1460.30" x2="451.50" y2="1460.30" stroke="#000" stroke-width="1.7"/>
<rect x="461.95" y="1480.90" width="9.50" height="8.30" fill="#a0d7db"/>
<line x1="466.70" y1="1480.90" x2="466.70" y2="1479.80" stroke="#000" stroke-width="1.7"/>
<line x1="461.70" y1="1479.80" x2="471.70" y2="1479.80" stroke="#000" stroke-width="1.7"/>
<text x="82.90" y="1515.00" text-anchor="middle">0</text>
<text x="103.10" y="1515.00" text-anchor="middle">1</text>
<text x="123.30" y="1515.00" text-anchor="middle">3</text>
<text x="143.50" y="1515.00" text-anchor="middle">6</text>
<text x="163.70" y="1515.00" text-anchor="middle">24</text>
<text x="183.90" y="1515.00" text-anchor="middle">0</text>
<text x="204.10" y="1515.00" text-anchor="middle">1</text>
<text x="224.30" y="1515.00" text-anchor="middle">3</text>
<text x="244.50" y="1515.00" text-anchor="middle">6</text>
<text x="264.70" y="1515.00" text-anchor="middle">24</text>
<text x="284.90" y="1515.00" text-anchor="middle">0</text>
<text x="305.10" y="1515.00" text-anchor="middle">1</text>
<text x="325.30" y="1515.00" text-anchor="middle">3</text>
<text x="345.50" y="1515.00" text-anchor="middle">6</text>
<text x="365.70" y="1515.00" text-anchor="middle">24</text>
<text x="385.90" y="1515.00" text-anchor="middle">0</text>
<text x="406.10" y="1515.00" text-anchor="middle">1</text>
<text x="426.30" y="1515.00" text-anchor="middle">3</text>
<text x="446.50" y="1515.00" text-anchor="middle">6</text>
<text x="466.70" y="1515.00" text-anchor="middle">24</text>
<text x="27.00" y="1377.90" text-anchor="middle" transform="rotate(-90 27.00 1377.90)">Relative expression</text>
<text x="420.40" y="1341.70" text-anchor="middle">SF</text>
<text x="270.40" y="1541.00" text-anchor="middle">mTNF (h)</text>
<line x1="78.60" y1="1548.90" x2="173.80" y2="1548.90" stroke="#000" stroke-width="2.5"/>
<line x1="178.60" y1="1548.90" x2="274.70" y2="1548.90" stroke="#000" stroke-width="2.5"/>
<line x1="278.10" y1="1548.90" x2="373.90" y2="1548.90" stroke="#000" stroke-width="2.5"/>
<line x1="378.70" y1="1548.90" x2="475.20" y2="1548.90" stroke="#000" stroke-width="2.5"/>
<text x="125.80" y="1573.80" text-anchor="middle">C57BL/6</text>
<text x="226.50" y="1573.80" text-anchor="middle">CTR</text>
<text x="326.00" y="1573.80" text-anchor="middle">Δ-UP</text>
<text x="427.30" y="1573.80" text-anchor="middle">Δ-DOWN</text>
<path d="M230.10 1228.30V1222.50H433.30V1228.30" stroke="#000" stroke-width="1.6" fill="none"/>
<text x="333.75" y="1221.55" style="font-size:20.5px" text-anchor="middle" letter-spacing="0.9">*</text>
<path d="M203.20 1248.30V1243.00H406.70V1248.30" stroke="#000" stroke-width="1.6" fill="none"/>
<text x="308.75" y="1245.55" style="font-size:20.5px" text-anchor="middle" letter-spacing="0.9">***</text>
<path d="M306.70 1271.50V1265.70H406.10V1271.50" stroke="#000" stroke-width="1.6" fill="none"/>
<text x="356.25" y="1265.55" style="font-size:20.5px" text-anchor="middle" letter-spacing="0.9">**</text>
<text x="888.90" y="20.70" text-anchor="middle">B cells</text>
<text x="742.30" y="58.30" text-anchor="middle">CTR</text>
<text x="879.80" y="58.30" text-anchor="middle">Δ-UP</text>
<text x="1020.50" y="58.30" text-anchor="middle">Δ-DOWN</text>
<line x1="687.25" y1="66.80" x2="806.80" y2="66.80" stroke="#000" stroke-width="4.2"/>
<line x1="825.00" y1="66.70" x2="936.00" y2="66.70" stroke="#000" stroke-width="4.2"/>
<line x1="954.00" y1="66.70" x2="1087.30" y2="66.70" stroke="#000" stroke-width="4.2"/>
<text x="512.20" y="101.50">αCD40 + αIgM h:</text>
<text x="699.00" y="101.60" text-anchor="middle">0</text>
<text x="729.50" y="101.60" text-anchor="middle">1</text>
<text x="765.70" y="101.60" text-anchor="middle">3</text>
<text x="803.50" y="101.60" text-anchor="middle">6</text>
<text x="833.80" y="101.60" text-anchor="middle">0</text>
<text x="858.30" y="101.60" text-anchor="middle">1</text>
<text x="895.00" y="101.60" text-anchor="middle">3</text>
<text x="925.70" y="101.60" text-anchor="middle">6</text>
<text x="962.50" y="101.60" text-anchor="middle">0</text>
<text x="998.30" y="101.60" text-anchor="middle">1</text>
<text x="1035.80" y="101.60" text-anchor="middle">3</text>
<text x="1071.70" y="101.60" text-anchor="middle">6</text>
<text x="668.40" y="153.00" text-anchor="end">hA20</text>
<text x="668.40" y="237.00" text-anchor="end">PLCγ2</text>
<line x1="1099.50" y1="155.00" x2="1108.30" y2="155.00" stroke="#000" stroke-width="1.8"/>
<text x="1116.00" y="165.00">75 kDa</text>
<line x1="1099.50" y1="228.30" x2="1108.30" y2="228.30" stroke="#000" stroke-width="1.8"/>
<text x="1117.20" y="236.70">150 kDa</text>
<rect x="678.30" y="111.80" width="421.10" height="70.70" fill="#ababab" stroke="#000" stroke-width="1.8"/>
<clipPath id="c1"><rect x="678.90" y="112.40" width="419.90" height="69.50"/></clipPath><g clip-path="url(#c1)">
<rect x="691.80" y="140.25" width="23.00" height="4.50" rx="2.25" fill="#000" fill-opacity="0.95" filter="url(#bl)"/>
<rect x="691.80" y="151.00" width="23.00" height="5.00" rx="2.50" fill="#000" fill-opacity="0.95" filter="url(#bl)"/>
<rect x="725.05" y="140.75" width="20.50" height="3.50" rx="1.75" fill="#000" fill-opacity="0.8" filter="url(#bl)"/>
<rect x="725.05" y="150.65" width="20.50" height="4.30" rx="2.15" fill="#000" fill-opacity="0.33" filter="url(#bl)"/>
<rect x="755.55" y="139.10" width="26.50" height="6.20" rx="3.10" fill="#000" fill-opacity="1" filter="url(#bl)"/>
<rect x="755.55" y="147.50" width="26.50" height="9.00" rx="4.50" fill="#000" fill-opacity="1" filter="url(#bl)"/>
<rect x="789.30" y="140.30" width="24.00" height="5.00" rx="2.50" fill="#000" fill-opacity="0.95" filter="url(#bl)"/>
<rect x="789.30" y="150.15" width="24.00" height="7.70" rx="3.85" fill="#000" fill-opacity="1" filter="url(#bl)"/>
<rect x="821.50" y="141.20" width="22.00" height="3.60" rx="1.80" fill="#000" fill-opacity="0.85" filter="url(#bl)"/>
<rect x="821.50" y="151.40" width="22.00" height="4.60" rx="2.30" fill="#000" fill-opacity="0.9" filter="url(#bl)"/>
<rect x="854.50" y="141.25" width="23.00" height="3.90" rx="1.95" fill="#000" fill-opacity="0.85" filter="url(#bl)"/>
<rect x="854.50" y="151.40" width="23.00" height="4.40" rx="2.20" fill="#000" fill-opacity="0.42" filter="url(#bl)"/>
<rect x="886.45" y="142.05" width="21.50" height="4.30" rx="2.15" fill="#000" fill-opacity="0.95" filter="url(#bl)"/>
<rect x="886.45" y="150.10" width="21.50" height="8.00" rx="4.00" fill="#000" fill-opacity="1" filter="url(#bl)"/>
<rect x="915.50" y="142.10" width="28.00" height="4.80" rx="2.40" fill="#000" fill-opacity="0.97" filter="url(#bl)"/>
<rect x="915.50" y="151.00" width="28.00" height="6.60" rx="3.30" fill="#000" fill-opacity="1" filter="url(#bl)"/>
<rect x="954.35" y="141.25" width="22.70" height="3.30" rx="1.65" fill="#000" fill-opacity="0.85" filter="url(#bl)"/>
<rect x="954.35" y="150.70" width="22.70" height="4.00" rx="2.00" fill="#000" fill-opacity="0.22" filter="url(#bl)"/>
<rect x="987.30" y="140.40" width="25.60" height="3.80" rx="1.90" fill="#000" fill-opacity="0.85" filter="url(#bl)"/>
<rect x="987.30" y="149.30" width="25.60" height="4.00" rx="2.00" fill="#000" fill-opacity="0.22" filter="url(#bl)"/>
<rect x="1022.20" y="139.60" width="24.00" height="4.00" rx="2.00" fill="#000" fill-opacity="0.8" filter="url(#bl)"/>
<rect x="1022.20" y="147.50" width="24.00" height="5.00" rx="2.50" fill="#000" fill-opacity="0.42" filter="url(#bl)"/>
<g transform="rotate(-7.44 1071.80 139.70)"><rect x="1056.29" y="137.70" width="31.03" height="4.00" rx="2.00" fill="#000" fill-opacity="0.82" filter="url(#bl)"/></g>
<rect x="1056.40" y="145.60" width="30.80" height="5.00" rx="2.50" fill="#000" fill-opacity="0.48" filter="url(#bl)"/>
<ellipse cx="768.80" cy="148.00" rx="5.00" ry="2.50" fill="#0c0c0c" fill-opacity="0.5" filter="url(#bl)"/>
<rect x="758.80" y="160.75" width="20.00" height="4.50" rx="2.25" fill="#000" fill-opacity="0.1" filter="url(#bl2)"/>
<rect x="791.30" y="160.75" width="20.00" height="4.50" rx="2.25" fill="#000" fill-opacity="0.1" filter="url(#bl2)"/>
<rect x="887.20" y="160.75" width="20.00" height="4.50" rx="2.25" fill="#000" fill-opacity="0.1" filter="url(#bl2)"/>
<rect x="919.50" y="160.75" width="20.00" height="4.50" rx="2.25" fill="#000" fill-opacity="0.1" filter="url(#bl2)"/>
</g>
<rect x="678.30" y="193.20" width="421.10" height="60.90" fill="#ababab" stroke="#000" stroke-width="1.8"/>
<clipPath id="c2"><rect x="678.90" y="193.80" width="419.90" height="59.70"/></clipPath><g clip-path="url(#c2)">
<linearGradient id="sm" x1="0" y1="0" x2="0" y2="1"><stop offset="0" stop-color="#000" stop-opacity="0.08"/><stop offset="0.6" stop-color="#000" stop-opacity="0.3"/><stop offset="1" stop-color="#000" stop-opacity="0.45"/></linearGradient>
<rect x="732" y="193" width="19" height="22" fill="url(#sm)" filter="url(#bl)"/>
<rect x="735.0" y="193" width="2" height="22" fill="#000" fill-opacity="0.08" filter="url(#bl)"/>
<rect x="741.3" y="193" width="2" height="22" fill="#000" fill-opacity="0.08" filter="url(#bl)"/>
<rect x="747.7" y="193" width="2" height="22" fill="#000" fill-opacity="0.08" filter="url(#bl)"/>
<rect x="923.5" y="194" width="18" height="30" fill="url(#sm)" filter="url(#bl)"/>
<rect x="926.5" y="194" width="2" height="30" fill="#000" fill-opacity="0.08" filter="url(#bl)"/>
<rect x="932.5" y="194" width="2" height="30" fill="#000" fill-opacity="0.08" filter="url(#bl)"/>
<rect x="938.5" y="194" width="2" height="30" fill="#000" fill-opacity="0.08" filter="url(#bl)"/>
<rect x="955" y="194" width="22" height="31" fill="url(#sm)" filter="url(#bl)"/>
<rect x="958.0" y="194" width="2" height="31" fill="#000" fill-opacity="0.08" filter="url(#bl)"/>
<rect x="965.3" y="194" width="2" height="31" fill="#000" fill-opacity="0.08" filter="url(#bl)"/>
<rect x="972.7" y="194" width="2" height="31" fill="#000" fill-opacity="0.08" filter="url(#bl)"/>
<rect x="687.30" y="212.80" width="39.00" height="13.80" rx="12.48" ry="6.90" fill="#0e0e0e" fill-opacity="1" filter="url(#bl3)"/>
<rect x="721.25" y="214.15" width="34.50" height="13.30" rx="11.04" ry="6.65" fill="#0e0e0e" fill-opacity="1" filter="url(#bl3)"/>
<rect x="751.50" y="216.25" width="40.80" height="13.90" rx="13.06" ry="6.95" fill="#0e0e0e" fill-opacity="1" filter="url(#bl3)"/>
<rect x="786.30" y="217.15" width="37.20" height="13.90" rx="11.90" ry="6.95" fill="#0e0e0e" fill-opacity="1" filter="url(#bl3)"/>
<rect x="818.40" y="219.00" width="35.40" height="13.00" rx="11.33" ry="6.50" fill="#0e0e0e" fill-opacity="1" filter="url(#bl3)"/>
<rect x="849.60" y="220.75" width="39.00" height="13.90" rx="12.48" ry="6.95" fill="#0e0e0e" fill-opacity="1" filter="url(#bl3)"/>
<rect x="881.60" y="222.25" width="35.00" height="13.50" rx="11.20" ry="6.75" fill="#0e0e0e" fill-opacity="1" filter="url(#bl3)"/>
<rect x="913.45" y="224.20" width="37.70" height="13.00" rx="12.06" ry="6.50" fill="#0e0e0e" fill-opacity="1" filter="url(#bl3)"/>
<rect x="949.80" y="225.05" width="36.80" height="12.10" rx="11.78" ry="6.05" fill="#0e0e0e" fill-opacity="1" filter="url(#bl3)"/>
<rect x="982.55" y="226.05" width="39.50" height="14.50" rx="12.64" ry="7.25" fill="#0e0e0e" fill-opacity="1" filter="url(#bl3)"/>
<rect x="1015.95" y="227.00" width="39.70" height="13.60" rx="12.70" ry="6.80" fill="#0e0e0e" fill-opacity="1" filter="url(#bl3)"/>
<rect x="1049.65" y="226.05" width="43.30" height="14.10" rx="13.86" ry="7.05" fill="#0e0e0e" fill-opacity="1" filter="url(#bl3)"/>
<rect x="987.30" y="240.00" width="30.00" height="7.00" rx="3.50" fill="#000" fill-opacity="0.4" filter="url(#bl2)"/>
<rect x="1021.80" y="241.50" width="28.00" height="5.00" rx="2.50" fill="#000" fill-opacity="0.2" filter="url(#bl2)"/>
<rect x="695.30" y="241.05" width="22.00" height="4.50" rx="2.25" fill="#000" fill-opacity="0.35" filter="url(#bl2)"/>
<rect x="727.50" y="242.75" width="22.00" height="4.50" rx="2.25" fill="#000" fill-opacity="0.15" filter="url(#bl2)"/>
<rect x="760.90" y="243.75" width="22.00" height="4.50" rx="2.25" fill="#000" fill-opacity="0.3" filter="url(#bl2)"/>
<rect x="793.90" y="244.75" width="22.00" height="4.50" rx="2.25" fill="#000" fill-opacity="0.2" filter="url(#bl2)"/>
<rect x="824.00" y="247.75" width="22.00" height="4.50" rx="2.25" fill="#000" fill-opacity="0.35" filter="url(#bl2)"/>
<rect x="856.60" y="248.55" width="22.00" height="4.50" rx="2.25" fill="#000" fill-opacity="0.3" filter="url(#bl2)"/>
<rect x="888.00" y="248.75" width="22.00" height="4.50" rx="2.25" fill="#000" fill-opacity="0.15" filter="url(#bl2)"/>
<rect x="921.00" y="249.25" width="22.00" height="4.50" rx="2.25" fill="#000" fill-opacity="0.1" filter="url(#bl2)"/>
</g>
<text x="890.00" y="291.70" text-anchor="middle">BMDM</text>
<text x="746.70" y="329.90" text-anchor="middle">CTR</text>
<text x="898.50" y="329.30" text-anchor="middle">Δ-UP</text>
<text x="1047.20" y="329.30" text-anchor="middle">Δ-DOWN</text>
<line x1="674.10" y1="336.70" x2="817.30" y2="336.70" stroke="#000" stroke-width="4.2"/>
<line x1="831.00" y1="336.00" x2="967.20" y2="336.00" stroke="#000" stroke-width="4.2"/>
<line x1="981.50" y1="336.00" x2="1113.90" y2="336.00" stroke="#000" stroke-width="4.2"/>
<text x="596.60" y="366.10">LPS h:</text>
<text x="694.50" y="366.10" text-anchor="middle">0</text>
<text x="725.30" y="366.10" text-anchor="middle">1</text>
<text x="756.40" y="366.10" text-anchor="middle">3</text>
<text x="782.40" y="366.10" text-anchor="middle">6</text>
<text x="809.70" y="366.10" text-anchor="middle">24</text>
<text x="839.80" y="366.10" text-anchor="middle">0</text>
<text x="869.90" y="366.10" text-anchor="middle">1</text>
<text x="900.50" y="366.10" text-anchor="middle">3</text>
<text x="928.00" y="366.10" text-anchor="middle">6</text>
<text x="956.30" y="366.10" text-anchor="middle">24</text>
<text x="989.10" y="366.10" text-anchor="middle">0</text>
<text x="1018.70" y="366.10" text-anchor="middle">1</text>
<text x="1049.90" y="366.10" text-anchor="middle">3</text>
<text x="1075.20" y="366.10" text-anchor="middle">6</text>
<text x="1103.00" y="366.10" text-anchor="middle">24</text>
<text x="654.60" y="424.00" text-anchor="end">hA20</text>
<text x="655.40" y="505.60" text-anchor="end">p38α</text>
<line x1="1120.80" y1="425.30" x2="1128.20" y2="425.30" stroke="#000" stroke-width="1.8"/>
<text x="1133.40" y="433.50">75 kDa</text>
<line x1="1120.80" y1="495.90" x2="1128.20" y2="495.90" stroke="#000" stroke-width="1.8"/>
<text x="1133.40" y="503.20">37 kDa</text>
<rect x="664.90" y="374.90" width="455.50" height="74.80" fill="#ababab" stroke="#000" stroke-width="1.8"/>
<clipPath id="c3"><rect x="665.50" y="375.50" width="454.30" height="73.60"/></clipPath><g clip-path="url(#c3)">
<rect x="687.75" y="412.25" width="15.50" height="3.50" rx="1.75" fill="#000" fill-opacity="0.9" filter="url(#bl)"/>
<rect x="687.75" y="422.50" width="15.50" height="5.00" rx="2.50" fill="#000" fill-opacity="0.45" filter="url(#bl)"/>
<rect x="713.80" y="413.35" width="23.00" height="4.50" rx="2.25" fill="#000" fill-opacity="0.97" filter="url(#bl)"/>
<rect x="713.80" y="419.00" width="23.00" height="9.00" rx="4.50" fill="#000" fill-opacity="0.22" filter="url(#bl)"/>
<rect x="746.25" y="412.25" width="16.50" height="5.50" rx="2.75" fill="#000" fill-opacity="0.97" filter="url(#bl)"/>
<rect x="746.25" y="421.50" width="16.50" height="7.00" rx="3.50" fill="#000" fill-opacity="0.7" filter="url(#bl)"/>
<rect x="770.30" y="413.25" width="23.00" height="5.50" rx="2.75" fill="#000" fill-opacity="1" filter="url(#bl)"/>
<rect x="770.30" y="422.40" width="23.00" height="8.00" rx="4.00" fill="#000" fill-opacity="0.97" filter="url(#bl)"/>
<g transform="rotate(-4.57 810.50 415.00)"><rect x="800.98" y="413.00" width="19.05" height="4.00" rx="2.00" fill="#000" fill-opacity="0.88" filter="url(#bl)"/></g>
<rect x="801.00" y="424.00" width="19.00" height="4.00" rx="2.00" fill="#000" fill-opacity="0.18" filter="url(#bl)"/>
<rect x="829.80" y="411.95" width="19.00" height="3.50" rx="1.75" fill="#000" fill-opacity="0.9" filter="url(#bl)"/>
<rect x="829.80" y="422.75" width="19.00" height="4.50" rx="2.25" fill="#000" fill-opacity="0.85" filter="url(#bl)"/>
<rect x="976.00" y="403.10" width="22.40" height="3.00" rx="1.50" fill="#000" fill-opacity="0.75" filter="url(#bl)"/>
<rect x="1007.60" y="401.40" width="23.40" height="3.80" rx="1.90" fill="#000" fill-opacity="0.88" filter="url(#bl)"/>
<rect x="1038.25" y="399.45" width="22.50" height="4.30" rx="2.15" fill="#000" fill-opacity="0.92" filter="url(#bl)"/>
<g transform="rotate(-6.07 1076.00 399.30)"><rect x="1066.76" y="397.15" width="18.48" height="4.30" rx="2.15" fill="#000" fill-opacity="0.93" filter="url(#bl)"/></g>
<rect x="1066.80" y="406.70" width="18.40" height="5.00" rx="2.50" fill="#000" fill-opacity="0.22" filter="url(#bl)"/>
<g transform="rotate(-7.65 1103.50 395.50)"><rect x="1094.28" y="393.80" width="18.43" height="3.40" rx="1.70" fill="#000" fill-opacity="0.82" filter="url(#bl)"/></g>
<rect x="857.50" y="410.35" width="24.00" height="16.30" rx="4.00" fill="#000" fill-opacity="0.99" filter="url(#bl)"/>
<rect x="888.15" y="407.70" width="24.50" height="19.40" rx="6.00" fill="#000" fill-opacity="1" filter="url(#bl)"/>
<rect x="917.80" y="407.05" width="21.40" height="16.90" rx="4.50" fill="#000" fill-opacity="1" filter="url(#bl)"/>
<g transform="rotate(-14.47 957.25 407.50)"><rect x="947.15" y="405.40" width="20.21" height="4.20" rx="2.10" fill="#000" fill-opacity="0.95" filter="url(#bl)"/></g>
<g transform="rotate(-42.88 968.50 402.25)"><rect x="961.72" y="400.25" width="13.55" height="4.00" rx="2.00" fill="#000" fill-opacity="0.8" filter="url(#bl)"/></g>
<g transform="rotate(-8.88 957.50 418.25)"><rect x="947.10" y="415.95" width="20.79" height="4.60" rx="2.30" fill="#000" fill-opacity="0.85" filter="url(#bl)"/></g>
<ellipse cx="1054.00" cy="412.80" rx="6.00" ry="5.50" fill="#000" fill-opacity="0.85" filter="url(#bl2)"/>
<ellipse cx="1054.00" cy="412.80" rx="4.00" ry="3.50" fill="#000" fill-opacity="0.6" filter="url(#bl)"/>
<rect x="1039.00" y="405.00" width="22.00" height="12.00" rx="6.00" fill="#000" fill-opacity="0.22" filter="url(#bl2)"/>
<rect x="890.40" y="428.50" width="20.00" height="5.00" rx="2.50" fill="#000" fill-opacity="0.15" filter="url(#bl2)"/>
<rect x="918.50" y="428.50" width="20.00" height="5.00" rx="2.50" fill="#000" fill-opacity="0.15" filter="url(#bl2)"/>
<rect x="717.00" y="395.75" width="16.00" height="2.50" rx="1.25" fill="#000" fill-opacity="0.08" filter="url(#bl2)"/>
<rect x="747.00" y="395.75" width="16.00" height="2.50" rx="1.25" fill="#000" fill-opacity="0.08" filter="url(#bl2)"/>
<rect x="774.00" y="395.75" width="16.00" height="2.50" rx="1.25" fill="#000" fill-opacity="0.08" filter="url(#bl2)"/>
<rect x="832.00" y="395.75" width="16.00" height="2.50" rx="1.25" fill="#000" fill-opacity="0.08" filter="url(#bl2)"/>
<rect x="862.00" y="395.75" width="16.00" height="2.50" rx="1.25" fill="#000" fill-opacity="0.08" filter="url(#bl2)"/>
<rect x="892.00" y="395.75" width="16.00" height="2.50" rx="1.25" fill="#000" fill-opacity="0.08" filter="url(#bl2)"/>
<rect x="921.00" y="395.75" width="16.00" height="2.50" rx="1.25" fill="#000" fill-opacity="0.08" filter="url(#bl2)"/>
</g>
<rect x="664.90" y="463.20" width="455.50" height="57.70" fill="#ababab" stroke="#000" stroke-width="1.8"/>
<clipPath id="c4"><rect x="665.50" y="463.80" width="454.30" height="56.50"/></clipPath><g clip-path="url(#c4)">
<rect x="675.00" y="494.75" width="28.00" height="12.90" rx="8.96" ry="6.45" fill="#0e0e0e" fill-opacity="1" filter="url(#bl3)"/>
<rect x="699.00" y="496.75" width="35.00" height="12.50" rx="11.20" ry="6.25" fill="#0e0e0e" fill-opacity="1" filter="url(#bl3)"/>
<rect x="732.00" y="494.55" width="28.00" height="12.90" rx="8.96" ry="6.45" fill="#0e0e0e" fill-opacity="1" filter="url(#bl3)"/>
<rect x="756.00" y="494.95" width="33.00" height="14.10" rx="10.56" ry="7.05" fill="#0e0e0e" fill-opacity="1" filter="url(#bl3)"/>
<rect x="786.00" y="495.75" width="32.00" height="13.50" rx="10.24" ry="6.75" fill="#0e0e0e" fill-opacity="1" filter="url(#bl3)"/>
<rect x="816.00" y="495.75" width="31.00" height="11.50" rx="9.92" ry="5.75" fill="#0e0e0e" fill-opacity="1" filter="url(#bl3)"/>
<rect x="847.00" y="495.75" width="34.00" height="12.50" rx="10.88" ry="6.25" fill="#0e0e0e" fill-opacity="1" filter="url(#bl3)"/>
<rect x="879.20" y="492.65" width="31.60" height="12.70" rx="10.11" ry="6.35" fill="#0e0e0e" fill-opacity="1" filter="url(#bl3)"/>
<rect x="908.70" y="492.15" width="32.60" height="12.70" rx="10.43" ry="6.35" fill="#0e0e0e" fill-opacity="1" filter="url(#bl3)"/>
<rect x="937.20" y="488.55" width="33.60" height="15.50" rx="10.75" ry="7.75" fill="#0e0e0e" fill-opacity="1" filter="url(#bl3)"/>
<rect x="967.75" y="489.40" width="35.70" height="12.80" rx="11.42" ry="6.40" fill="#0e0e0e" fill-opacity="1" filter="url(#bl3)"/>
<rect x="1000.25" y="487.45" width="33.50" height="13.10" rx="10.72" ry="6.55" fill="#0e0e0e" fill-opacity="1" filter="url(#bl3)"/>
<rect x="1028.65" y="486.25" width="36.70" height="13.50" rx="11.74" ry="6.75" fill="#0e0e0e" fill-opacity="1" filter="url(#bl3)"/>
<rect x="1062.75" y="484.30" width="28.50" height="13.80" rx="9.12" ry="6.90" fill="#0e0e0e" fill-opacity="1" filter="url(#bl3)"/>
<rect x="1088.25" y="480.30" width="30.50" height="13.80" rx="9.76" ry="6.90" fill="#0e0e0e" fill-opacity="1" filter="url(#bl3)"/>
</g>
<text x="893.00" y="569.10" text-anchor="middle">SF</text>
<text x="742.00" y="600.80" text-anchor="middle">CTR</text>
<text x="896.40" y="599.50" text-anchor="middle">Δ-UP</text>
<text x="1043.30" y="599.50" text-anchor="middle">Δ-DOWN</text>
<line x1="674.10" y1="609.50" x2="813.30" y2="609.50" stroke="#000" stroke-width="4.2"/>
<line x1="827.00" y1="608.80" x2="967.20" y2="608.80" stroke="#000" stroke-width="4.2"/>
<line x1="980.90" y1="608.80" x2="1106.00" y2="608.80" stroke="#000" stroke-width="4.2"/>
<text x="592.90" y="641.30">TNF h:</text>
<text x="683.00" y="641.30" text-anchor="middle">0</text>
<text x="713.00" y="641.30" text-anchor="middle">1</text>
<text x="744.30" y="641.30" text-anchor="middle">3</text>
<text x="768.30" y="641.30" text-anchor="middle">6</text>
<text x="802.80" y="641.30" text-anchor="middle">24</text>
<text x="830.50" y="641.30" text-anchor="middle">0</text>
<text x="859.90" y="641.30" text-anchor="middle">1</text>
<text x="891.60" y="641.30" text-anchor="middle">3</text>
<text x="922.10" y="641.30" text-anchor="middle">6</text>
<text x="953.00" y="641.30" text-anchor="middle">24</text>
<text x="982.30" y="641.30" text-anchor="middle">0</text>
<text x="1007.40" y="641.30" text-anchor="middle">1</text>
<text x="1038.00" y="641.30" text-anchor="middle">3</text>
<text x="1062.00" y="641.30" text-anchor="middle">6</text>
<text x="1092.50" y="641.30" text-anchor="middle">24</text>
<text x="651.40" y="694.10" text-anchor="end">hA20</text>
<text x="652.70" y="753.60" text-anchor="end">p38α</text>
<line x1="1121.50" y1="688.80" x2="1128.50" y2="688.80" stroke="#000" stroke-width="1.8"/>
<text x="1138.00" y="696.80">75 kDa</text>
<line x1="1121.50" y1="745.20" x2="1128.50" y2="745.20" stroke="#000" stroke-width="1.8"/>
<text x="1138.00" y="751.50">37 kDa</text>
<rect x="666.40" y="653.20" width="455.70" height="58.50" fill="#ababab" stroke="#000" stroke-width="1.8"/>
<clipPath id="c5"><rect x="667.00" y="653.80" width="454.50" height="57.30"/></clipPath><g clip-path="url(#c5)">
<rect x="676.40" y="665.35" width="24.00" height="4.30" rx="2.15" fill="#000" fill-opacity="0.85" filter="url(#bl)"/>
<rect x="676.40" y="675.05" width="24.00" height="4.50" rx="2.25" fill="#000" fill-opacity="0.3" filter="url(#bl)"/>
<rect x="706.45" y="666.95" width="23.50" height="5.70" rx="2.85" fill="#000" fill-opacity="0.9" filter="url(#bl)"/>
<rect x="706.45" y="675.80" width="23.50" height="5.00" rx="2.50" fill="#000" fill-opacity="0.45" filter="url(#bl)"/>
<rect x="736.80" y="669.25" width="25.00" height="5.30" rx="2.65" fill="#000" fill-opacity="0.9" filter="url(#bl)"/>
<rect x="736.80" y="678.45" width="25.00" height="5.70" rx="2.85" fill="#000" fill-opacity="0.85" filter="url(#bl)"/>
<rect x="768.30" y="671.05" width="20.00" height="5.50" rx="2.75" fill="#000" fill-opacity="0.92" filter="url(#bl)"/>
<rect x="768.30" y="679.90" width="20.00" height="6.00" rx="3.00" fill="#000" fill-opacity="0.75" filter="url(#bl)"/>
<rect x="768.30" y="688.00" width="20.00" height="4.00" rx="2.00" fill="#000" fill-opacity="0.12" filter="url(#bl)"/>
<rect x="794.30" y="672.60" width="22.00" height="5.20" rx="2.60" fill="#000" fill-opacity="0.92" filter="url(#bl)"/>
<rect x="794.30" y="681.60" width="22.00" height="4.80" rx="2.40" fill="#000" fill-opacity="0.6" filter="url(#bl)"/>
<rect x="794.30" y="690.30" width="22.00" height="3.80" rx="1.90" fill="#000" fill-opacity="0.3" filter="url(#bl)"/>
<rect x="822.00" y="673.00" width="24.40" height="5.40" rx="2.70" fill="#000" fill-opacity="0.9" filter="url(#bl)"/>
<rect x="822.00" y="681.00" width="24.40" height="6.40" rx="3.20" fill="#000" fill-opacity="0.9" filter="url(#bl)"/>
<rect x="853.35" y="673.65" width="24.30" height="5.70" rx="2.85" fill="#000" fill-opacity="0.9" filter="url(#bl)"/>
<rect x="853.35" y="680.95" width="24.30" height="6.70" rx="3.35" fill="#000" fill-opacity="0.88" filter="url(#bl)"/>
<rect x="883.15" y="673.80" width="23.70" height="6.00" rx="3.00" fill="#000" fill-opacity="0.9" filter="url(#bl)"/>
<rect x="883.15" y="682.00" width="23.70" height="7.00" rx="3.50" fill="#000" fill-opacity="0.88" filter="url(#bl)"/>
<rect x="883.15" y="691.00" width="23.70" height="4.00" rx="2.00" fill="#000" fill-opacity="0.15" filter="url(#bl)"/>
<rect x="913.05" y="673.80" width="24.70" height="6.00" rx="3.00" fill="#000" fill-opacity="0.9" filter="url(#bl)"/>
<rect x="913.05" y="682.00" width="24.70" height="7.00" rx="3.50" fill="#000" fill-opacity="0.88" filter="url(#bl)"/>
<rect x="913.05" y="691.00" width="24.70" height="4.00" rx="2.00" fill="#000" fill-opacity="0.15" filter="url(#bl)"/>
<g transform="rotate(-5.39 956.90 676.50)"><rect x="943.50" y="673.75" width="26.79" height="5.50" rx="2.75" fill="#000" fill-opacity="0.92" filter="url(#bl)"/></g>
<rect x="943.55" y="683.00" width="26.70" height="5.00" rx="2.50" fill="#000" fill-opacity="0.75" filter="url(#bl)"/>
<rect x="943.55" y="691.20" width="26.70" height="5.00" rx="2.50" fill="#000" fill-opacity="0.55" filter="url(#bl)"/>
<rect x="974.70" y="673.80" width="20.60" height="5.00" rx="2.50" fill="#000" fill-opacity="0.9" filter="url(#bl)"/>
<rect x="974.70" y="684.00" width="20.60" height="4.00" rx="2.00" fill="#000" fill-opacity="0.3" filter="url(#bl)"/>
<rect x="1000.50" y="673.80" width="21.60" height="5.00" rx="2.50" fill="#000" fill-opacity="0.92" filter="url(#bl)"/>
<rect x="1000.50" y="683.75" width="21.60" height="4.50" rx="2.25" fill="#000" fill-opacity="0.4" filter="url(#bl)"/>
<rect x="1028.30" y="672.10" width="20.60" height="5.80" rx="2.90" fill="#000" fill-opacity="0.95" filter="url(#bl)"/>
<rect x="1028.30" y="682.00" width="20.60" height="5.00" rx="2.50" fill="#000" fill-opacity="0.55" filter="url(#bl)"/>
<rect x="1055.00" y="672.60" width="21.60" height="5.20" rx="2.60" fill="#000" fill-opacity="0.92" filter="url(#bl)"/>
<rect x="1055.00" y="682.75" width="21.60" height="4.50" rx="2.25" fill="#000" fill-opacity="0.35" filter="url(#bl)"/>
<g transform="rotate(-8.04 1095.20 674.00)"><rect x="1083.76" y="671.50" width="22.88" height="5.00" rx="2.50" fill="#000" fill-opacity="0.9" filter="url(#bl)"/></g>
<rect x="1083.85" y="682.50" width="22.70" height="4.00" rx="2.00" fill="#000" fill-opacity="0.3" filter="url(#bl)"/>
<rect x="1083.85" y="691.50" width="22.70" height="3.00" rx="1.50" fill="#000" fill-opacity="0.1" filter="url(#bl)"/>
<rect x="976.00" y="658.30" width="18.00" height="3.00" rx="1.50" fill="#000" fill-opacity="0.1" filter="url(#bl2)"/>
<rect x="1002.30" y="658.30" width="18.00" height="3.00" rx="1.50" fill="#000" fill-opacity="0.1" filter="url(#bl2)"/>
<rect x="1029.60" y="658.30" width="18.00" height="3.00" rx="1.50" fill="#000" fill-opacity="0.1" filter="url(#bl2)"/>
<rect x="1056.80" y="658.30" width="18.00" height="3.00" rx="1.50" fill="#000" fill-opacity="0.1" filter="url(#bl2)"/>
<rect x="1086.20" y="658.30" width="18.00" height="3.00" rx="1.50" fill="#000" fill-opacity="0.1" filter="url(#bl2)"/>
</g>
<rect x="664.40" y="720.70" width="456.70" height="47.70" fill="#ababab" stroke="#000" stroke-width="1.8"/>
<clipPath id="c6"><rect x="665.00" y="721.30" width="455.50" height="46.50"/></clipPath><g clip-path="url(#c6)">
<rect x="671.80" y="735.35" width="30.40" height="9.50" rx="9.73" ry="4.75" fill="#0e0e0e" fill-opacity="1" filter="url(#bl3)"/>
<rect x="699.30" y="736.95" width="30.80" height="10.10" rx="9.86" ry="5.05" fill="#0e0e0e" fill-opacity="1" filter="url(#bl3)"/>
<rect x="728.05" y="739.70" width="34.70" height="9.20" rx="11.10" ry="4.60" fill="#0e0e0e" fill-opacity="1" filter="url(#bl3)"/>
<rect x="760.60" y="738.85" width="28.00" height="10.10" rx="8.96" ry="5.05" fill="#0e0e0e" fill-opacity="1" filter="url(#bl3)"/>
<rect x="785.65" y="741.35" width="32.70" height="8.90" rx="10.46" ry="4.45" fill="#0e0e0e" fill-opacity="1" filter="url(#bl3)"/>
<rect x="816.20" y="739.45" width="31.80" height="9.50" rx="10.18" ry="4.75" fill="#0e0e0e" fill-opacity="1" filter="url(#bl3)"/>
<rect x="845.95" y="740.70" width="34.70" height="8.20" rx="11.10" ry="4.10" fill="#0e0e0e" fill-opacity="1" filter="url(#bl3)"/>
<rect x="880.05" y="739.30" width="30.90" height="9.40" rx="9.89" ry="4.70" fill="#0e0e0e" fill-opacity="1" filter="url(#bl3)"/>
<rect x="909.00" y="739.95" width="32.80" height="9.10" rx="10.50" ry="4.55" fill="#0e0e0e" fill-opacity="1" filter="url(#bl3)"/>
<rect x="940.75" y="737.30" width="32.90" height="10.20" rx="10.53" ry="5.10" fill="#0e0e0e" fill-opacity="1" filter="url(#bl3)"/>
<rect x="969.65" y="736.60" width="31.70" height="11.40" rx="10.14" ry="5.70" fill="#0e0e0e" fill-opacity="1" filter="url(#bl3)"/>
<rect x="997.40" y="737.20" width="31.80" height="10.80" rx="10.18" ry="5.40" fill="#0e0e0e" fill-opacity="1" filter="url(#bl3)"/>
<rect x="1025.15" y="735.75" width="27.70" height="12.30" rx="8.86" ry="6.15" fill="#0e0e0e" fill-opacity="1" filter="url(#bl3)"/>
<rect x="1048.85" y="737.20" width="33.90" height="10.80" rx="10.85" ry="5.40" fill="#0e0e0e" fill-opacity="1" filter="url(#bl3)"/>
<rect x="1076.70" y="734.10" width="30.80" height="12.80" rx="9.86" ry="6.40" fill="#0e0e0e" fill-opacity="1" filter="url(#bl3)"/>
</g>
<line x1="626.40" y1="1026.70" x2="626.40" y2="849.40" stroke="#000" stroke-width="1.6"/>
<line x1="620.90" y1="1026.70" x2="626.40" y2="1026.70" stroke="#000" stroke-width="1.6"/>
<text x="616.30" y="1033.50" text-anchor="end">0</text>
<line x1="620.90" y1="982.37" x2="626.40" y2="982.37" stroke="#000" stroke-width="1.6"/>
<text x="616.30" y="989.17" text-anchor="end">10</text>
<line x1="620.90" y1="938.04" x2="626.40" y2="938.04" stroke="#000" stroke-width="1.6"/>
<text x="616.30" y="944.84" text-anchor="end">20</text>
<line x1="620.90" y1="893.71" x2="626.40" y2="893.71" stroke="#000" stroke-width="1.6"/>
<text x="616.30" y="900.51" text-anchor="end">30</text>
<line x1="620.90" y1="849.38" x2="626.40" y2="849.38" stroke="#000" stroke-width="1.6"/>
<text x="616.30" y="856.18" text-anchor="end">40</text>
<line x1="620.90" y1="1026.70" x2="887.70" y2="1026.70" stroke="#000" stroke-width="1.6"/>
<line x1="634.60" y1="1026.70" x2="634.60" y2="1031.20" stroke="#000" stroke-width="1.6"/>
<line x1="652.26" y1="1026.70" x2="652.26" y2="1031.20" stroke="#000" stroke-width="1.6"/>
<line x1="669.92" y1="1026.70" x2="669.92" y2="1031.20" stroke="#000" stroke-width="1.6"/>
<line x1="687.58" y1="1026.70" x2="687.58" y2="1031.20" stroke="#000" stroke-width="1.6"/>
<line x1="705.24" y1="1026.70" x2="705.24" y2="1031.20" stroke="#000" stroke-width="1.6"/>
<line x1="722.90" y1="1026.70" x2="722.90" y2="1031.20" stroke="#000" stroke-width="1.6"/>
<line x1="740.56" y1="1026.70" x2="740.56" y2="1031.20" stroke="#000" stroke-width="1.6"/>
<line x1="758.22" y1="1026.70" x2="758.22" y2="1031.20" stroke="#000" stroke-width="1.6"/>
<line x1="775.88" y1="1026.70" x2="775.88" y2="1031.20" stroke="#000" stroke-width="1.6"/>
<line x1="793.54" y1="1026.70" x2="793.54" y2="1031.20" stroke="#000" stroke-width="1.6"/>
<line x1="811.20" y1="1026.70" x2="811.20" y2="1031.20" stroke="#000" stroke-width="1.6"/>
<line x1="828.86" y1="1026.70" x2="828.86" y2="1031.20" stroke="#000" stroke-width="1.6"/>
<line x1="846.52" y1="1026.70" x2="846.52" y2="1031.20" stroke="#000" stroke-width="1.6"/>
<line x1="864.18" y1="1026.70" x2="864.18" y2="1031.20" stroke="#000" stroke-width="1.6"/>
<line x1="881.84" y1="1026.70" x2="881.84" y2="1031.20" stroke="#000" stroke-width="1.6"/>
<line x1="887.70" y1="1026.70" x2="887.70" y2="1031.20" stroke="#000" stroke-width="1.6"/>
<rect x="629.45" y="1024.40" width="10.30" height="2.30" fill="#bebebe"/>
<line x1="634.60" y1="1024.40" x2="634.60" y2="1023.00" stroke="#000" stroke-width="1.7"/>
<line x1="629.60" y1="1023.00" x2="639.60" y2="1023.00" stroke="#000" stroke-width="1.7"/>
<rect x="647.11" y="953.50" width="10.30" height="73.20" fill="#bebebe"/>
<line x1="652.26" y1="953.50" x2="652.26" y2="944.20" stroke="#000" stroke-width="1.7"/>
<line x1="647.26" y1="944.20" x2="657.26" y2="944.20" stroke="#000" stroke-width="1.7"/>
<rect x="664.77" y="973.30" width="10.30" height="53.40" fill="#bebebe"/>
<line x1="669.92" y1="973.30" x2="669.92" y2="946.50" stroke="#000" stroke-width="1.7"/>
<line x1="664.92" y1="946.50" x2="674.92" y2="946.50" stroke="#000" stroke-width="1.7"/>
<rect x="682.43" y="998.10" width="10.30" height="28.60" fill="#bebebe"/>
<line x1="687.58" y1="998.10" x2="687.58" y2="987.00" stroke="#000" stroke-width="1.7"/>
<line x1="682.58" y1="987.00" x2="692.58" y2="987.00" stroke="#000" stroke-width="1.7"/>
<rect x="700.09" y="1022.30" width="10.30" height="4.40" fill="#bebebe"/>
<line x1="705.24" y1="1022.30" x2="705.24" y2="1021.50" stroke="#000" stroke-width="1.7"/>
<line x1="700.24" y1="1021.50" x2="710.24" y2="1021.50" stroke="#000" stroke-width="1.7"/>
<rect x="717.75" y="1023.80" width="10.30" height="2.90" fill="#f8a6a6"/>
<line x1="722.90" y1="1023.80" x2="722.90" y2="1023.00" stroke="#000" stroke-width="1.7"/>
<line x1="717.90" y1="1023.00" x2="727.90" y2="1023.00" stroke="#000" stroke-width="1.7"/>
<rect x="735.41" y="976.80" width="10.30" height="49.90" fill="#f8a6a6"/>
<line x1="740.56" y1="976.80" x2="740.56" y2="953.50" stroke="#000" stroke-width="1.7"/>
<line x1="735.56" y1="953.50" x2="745.56" y2="953.50" stroke="#000" stroke-width="1.7"/>
<rect x="753.07" y="982.70" width="10.30" height="44.00" fill="#f8a6a6"/>
<line x1="758.22" y1="982.70" x2="758.22" y2="975.70" stroke="#000" stroke-width="1.7"/>
<line x1="753.22" y1="975.70" x2="763.22" y2="975.70" stroke="#000" stroke-width="1.7"/>
<rect x="770.73" y="996.70" width="10.30" height="30.00" fill="#f8a6a6"/>
<line x1="770.88" y1="996.20" x2="780.88" y2="996.20" stroke="#000" stroke-width="1.7"/>
<rect x="788.39" y="1022.30" width="10.30" height="4.40" fill="#f8a6a6"/>
<line x1="793.54" y1="1022.30" x2="793.54" y2="1021.50" stroke="#000" stroke-width="1.7"/>
<line x1="788.54" y1="1021.50" x2="798.54" y2="1021.50" stroke="#000" stroke-width="1.7"/>
<rect x="806.05" y="1019.40" width="10.30" height="7.30" fill="#a0d7db"/>
<line x1="811.20" y1="1019.40" x2="811.20" y2="1018.50" stroke="#000" stroke-width="1.7"/>
<line x1="806.20" y1="1018.50" x2="816.20" y2="1018.50" stroke="#000" stroke-width="1.7"/>
<rect x="823.71" y="904.80" width="10.30" height="121.90" fill="#a0d7db"/>
<line x1="828.86" y1="904.80" x2="828.86" y2="884.70" stroke="#000" stroke-width="1.7"/>
<line x1="823.86" y1="884.70" x2="833.86" y2="884.70" stroke="#000" stroke-width="1.7"/>
<rect x="841.37" y="929.60" width="10.30" height="97.10" fill="#a0d7db"/>
<line x1="846.52" y1="929.60" x2="846.52" y2="915.90" stroke="#000" stroke-width="1.7"/>
<line x1="841.52" y1="915.90" x2="851.52" y2="915.90" stroke="#000" stroke-width="1.7"/>
<rect x="859.03" y="964.60" width="10.30" height="62.10" fill="#a0d7db"/>
<line x1="864.18" y1="964.60" x2="864.18" y2="950.60" stroke="#000" stroke-width="1.7"/>
<line x1="859.18" y1="950.60" x2="869.18" y2="950.60" stroke="#000" stroke-width="1.7"/>
<rect x="876.69" y="1018.00" width="10.30" height="8.70" fill="#a0d7db"/>
<line x1="876.84" y1="1017.50" x2="886.84" y2="1017.50" stroke="#000" stroke-width="1.7"/>
<text x="641.50" y="1035.70" text-anchor="end" transform="rotate(-90 641.50 1035.70)">0</text>
<text x="659.16" y="1035.70" text-anchor="end" transform="rotate(-90 659.16 1035.70)">1</text>
<text x="676.82" y="1035.70" text-anchor="end" transform="rotate(-90 676.82 1035.70)">3</text>
<text x="694.48" y="1035.70" text-anchor="end" transform="rotate(-90 694.48 1035.70)">6</text>
<text x="712.14" y="1035.70" text-anchor="end" transform="rotate(-90 712.14 1035.70)">24</text>
<text x="729.80" y="1035.70" text-anchor="end" transform="rotate(-90 729.80 1035.70)">0</text>
<text x="747.46" y="1035.70" text-anchor="end" transform="rotate(-90 747.46 1035.70)">1</text>
<text x="765.12" y="1035.70" text-anchor="end" transform="rotate(-90 765.12 1035.70)">3</text>
<text x="782.78" y="1035.70" text-anchor="end" transform="rotate(-90 782.78 1035.70)">6</text>
<text x="800.44" y="1035.70" text-anchor="end" transform="rotate(-90 800.44 1035.70)">24</text>
<text x="818.10" y="1035.70" text-anchor="end" transform="rotate(-90 818.10 1035.70)">0</text>
<text x="835.76" y="1035.70" text-anchor="end" transform="rotate(-90 835.76 1035.70)">1</text>
<text x="853.42" y="1035.70" text-anchor="end" transform="rotate(-90 853.42 1035.70)">3</text>
<text x="871.08" y="1035.70" text-anchor="end" transform="rotate(-90 871.08 1035.70)">6</text>
<text x="888.74" y="1035.70" text-anchor="end" transform="rotate(-90 888.74 1035.70)">24</text>
<text x="666.70" y="859.60" text-anchor="middle">SF</text>
<text x="656.00" y="907.70" font-style="italic">Tnf</text>
<text x="579.0" y="936.0" text-anchor="middle" transform="rotate(-90 579.0 936.0)">% <tspan font-style="italic">Gapdh</tspan></text>
<path d="M744.80 875.60V864.00H825.60V875.60" stroke="#000" stroke-width="1.6" fill="none"/>
<text x="786.25" y="864.14" style="font-size:20.5px" text-anchor="middle" letter-spacing="0.9">*</text>
<text x="759.80" y="1079.80" text-anchor="middle">mTNF (h)</text>
<line x1="646.25" y1="1090.60" x2="717.70" y2="1090.60" stroke="#000" stroke-width="2.6"/>
<line x1="726.50" y1="1090.60" x2="797.90" y2="1090.60" stroke="#000" stroke-width="2.6"/>
<line x1="806.70" y1="1090.60" x2="879.00" y2="1090.60" stroke="#000" stroke-width="2.6"/>
<text x="677.90" y="1114.80" text-anchor="middle">CTR</text>
<text x="761.50" y="1114.80" text-anchor="middle">Δ-UP</text>
<text x="842.10" y="1114.80" text-anchor="middle">Δ-DOWN</text>
<line x1="936.00" y1="1024.70" x2="936.00" y2="844.70" stroke="#000" stroke-width="1.6"/>
<line x1="930.50" y1="1024.70" x2="936.00" y2="1024.70" stroke="#000" stroke-width="1.6"/>
<text x="923.40" y="1031.50" text-anchor="end">0</text>
<line x1="930.50" y1="988.70" x2="936.00" y2="988.70" stroke="#000" stroke-width="1.6"/>
<text x="923.40" y="995.50" text-anchor="end">5</text>
<line x1="930.50" y1="952.70" x2="936.00" y2="952.70" stroke="#000" stroke-width="1.6"/>
<text x="923.40" y="959.50" text-anchor="end">10</text>
<line x1="930.50" y1="916.70" x2="936.00" y2="916.70" stroke="#000" stroke-width="1.6"/>
<text x="923.40" y="923.50" text-anchor="end">15</text>
<line x1="930.50" y1="880.70" x2="936.00" y2="880.70" stroke="#000" stroke-width="1.6"/>
<text x="923.40" y="887.50" text-anchor="end">20</text>
<line x1="930.50" y1="844.70" x2="936.00" y2="844.70" stroke="#000" stroke-width="1.6"/>
<text x="923.40" y="851.50" text-anchor="end">25</text>
<line x1="930.50" y1="1024.70" x2="1188.00" y2="1024.70" stroke="#000" stroke-width="1.6"/>
<line x1="944.80" y1="1024.70" x2="944.80" y2="1029.20" stroke="#000" stroke-width="1.6"/>
<line x1="961.55" y1="1024.70" x2="961.55" y2="1029.20" stroke="#000" stroke-width="1.6"/>
<line x1="978.30" y1="1024.70" x2="978.30" y2="1029.20" stroke="#000" stroke-width="1.6"/>
<line x1="995.05" y1="1024.70" x2="995.05" y2="1029.20" stroke="#000" stroke-width="1.6"/>
<line x1="1011.80" y1="1024.70" x2="1011.80" y2="1029.20" stroke="#000" stroke-width="1.6"/>
<line x1="1028.55" y1="1024.70" x2="1028.55" y2="1029.20" stroke="#000" stroke-width="1.6"/>
<line x1="1045.30" y1="1024.70" x2="1045.30" y2="1029.20" stroke="#000" stroke-width="1.6"/>
<line x1="1062.05" y1="1024.70" x2="1062.05" y2="1029.20" stroke="#000" stroke-width="1.6"/>
<line x1="1078.80" y1="1024.70" x2="1078.80" y2="1029.20" stroke="#000" stroke-width="1.6"/>
<line x1="1095.55" y1="1024.70" x2="1095.55" y2="1029.20" stroke="#000" stroke-width="1.6"/>
<line x1="1112.30" y1="1024.70" x2="1112.30" y2="1029.20" stroke="#000" stroke-width="1.6"/>
<line x1="1129.05" y1="1024.70" x2="1129.05" y2="1029.20" stroke="#000" stroke-width="1.6"/>
<line x1="1145.80" y1="1024.70" x2="1145.80" y2="1029.20" stroke="#000" stroke-width="1.6"/>
<line x1="1162.55" y1="1024.70" x2="1162.55" y2="1029.20" stroke="#000" stroke-width="1.6"/>
<line x1="1179.30" y1="1024.70" x2="1179.30" y2="1029.20" stroke="#000" stroke-width="1.6"/>
<line x1="1188.00" y1="1024.70" x2="1188.00" y2="1029.20" stroke="#000" stroke-width="1.6"/>
<rect x="957.05" y="1024.20" width="9.00" height="0.50" fill="#bebebe"/>
<line x1="961.55" y1="1024.20" x2="961.55" y2="1023.30" stroke="#000" stroke-width="1.7"/>
<line x1="956.55" y1="1023.30" x2="966.55" y2="1023.30" stroke="#000" stroke-width="1.7"/>
<rect x="973.80" y="1013.20" width="9.00" height="11.50" fill="#bebebe"/>
<line x1="978.30" y1="1013.20" x2="978.30" y2="1007.90" stroke="#000" stroke-width="1.7"/>
<line x1="973.30" y1="1007.90" x2="983.30" y2="1007.90" stroke="#000" stroke-width="1.7"/>
<rect x="990.55" y="997.50" width="9.00" height="27.20" fill="#bebebe"/>
<line x1="995.05" y1="997.50" x2="995.05" y2="976.70" stroke="#000" stroke-width="1.7"/>
<line x1="990.05" y1="976.70" x2="1000.05" y2="976.70" stroke="#000" stroke-width="1.7"/>
<rect x="1040.80" y="1024.20" width="9.00" height="0.50" fill="#f8a6a6"/>
<line x1="1045.30" y1="1024.20" x2="1045.30" y2="1023.30" stroke="#000" stroke-width="1.7"/>
<line x1="1040.30" y1="1023.30" x2="1050.30" y2="1023.30" stroke="#000" stroke-width="1.7"/>
<rect x="1057.55" y="1007.30" width="9.00" height="17.40" fill="#f8a6a6"/>
<line x1="1062.05" y1="1007.30" x2="1062.05" y2="1001.50" stroke="#000" stroke-width="1.7"/>
<line x1="1057.05" y1="1001.50" x2="1067.05" y2="1001.50" stroke="#000" stroke-width="1.7"/>
<rect x="1074.30" y="1004.10" width="9.00" height="20.60" fill="#f8a6a6"/>
<line x1="1078.80" y1="1004.10" x2="1078.80" y2="990.80" stroke="#000" stroke-width="1.7"/>
<line x1="1073.80" y1="990.80" x2="1083.80" y2="990.80" stroke="#000" stroke-width="1.7"/>
<rect x="1124.55" y="1024.20" width="9.00" height="0.50" fill="#a0d7db"/>
<line x1="1129.05" y1="1024.20" x2="1129.05" y2="1023.30" stroke="#000" stroke-width="1.7"/>
<line x1="1124.05" y1="1023.30" x2="1134.05" y2="1023.30" stroke="#000" stroke-width="1.7"/>
<rect x="1141.30" y="982.00" width="9.00" height="42.70" fill="#a0d7db"/>
<line x1="1145.80" y1="982.00" x2="1145.80" y2="948.10" stroke="#000" stroke-width="1.7"/>
<line x1="1140.80" y1="948.10" x2="1150.80" y2="948.10" stroke="#000" stroke-width="1.7"/>
<rect x="1158.05" y="946.00" width="9.00" height="78.70" fill="#a0d7db"/>
<line x1="1162.55" y1="946.00" x2="1162.55" y2="873.20" stroke="#000" stroke-width="1.7"/>
<line x1="1157.55" y1="873.20" x2="1167.55" y2="873.20" stroke="#000" stroke-width="1.7"/>
<line x1="1174.30" y1="1024.00" x2="1184.30" y2="1024.00" stroke="#000" stroke-width="1.7"/>
<text x="951.70" y="1033.70" text-anchor="end" transform="rotate(-90 951.70 1033.70)">0</text>
<text x="968.45" y="1033.70" text-anchor="end" transform="rotate(-90 968.45 1033.70)">1</text>
<text x="985.20" y="1033.70" text-anchor="end" transform="rotate(-90 985.20 1033.70)">3</text>
<text x="1001.95" y="1033.70" text-anchor="end" transform="rotate(-90 1001.95 1033.70)">6</text>
<text x="1018.70" y="1033.70" text-anchor="end" transform="rotate(-90 1018.70 1033.70)">24</text>
<text x="1035.45" y="1033.70" text-anchor="end" transform="rotate(-90 1035.45 1033.70)">0</text>
<text x="1052.20" y="1033.70" text-anchor="end" transform="rotate(-90 1052.20 1033.70)">1</text>
<text x="1068.95" y="1033.70" text-anchor="end" transform="rotate(-90 1068.95 1033.70)">3</text>
<text x="1085.70" y="1033.70" text-anchor="end" transform="rotate(-90 1085.70 1033.70)">6</text>
<text x="1102.45" y="1033.70" text-anchor="end" transform="rotate(-90 1102.45 1033.70)">24</text>
<text x="1119.20" y="1033.70" text-anchor="end" transform="rotate(-90 1119.20 1033.70)">0</text>
<text x="1135.95" y="1033.70" text-anchor="end" transform="rotate(-90 1135.95 1033.70)">1</text>
<text x="1152.70" y="1033.70" text-anchor="end" transform="rotate(-90 1152.70 1033.70)">3</text>
<text x="1169.45" y="1033.70" text-anchor="end" transform="rotate(-90 1169.45 1033.70)">6</text>
<text x="1186.20" y="1033.70" text-anchor="end" transform="rotate(-90 1186.20 1033.70)">24</text>
<text x="988.00" y="859.30" text-anchor="middle">BMDM</text>
<text x="970.20" y="906.50" font-style="italic">Il6</text>
<text x="1061.30" y="1081.20" text-anchor="middle">LPS (h)</text>
<line x1="940.00" y1="1090.00" x2="1011.20" y2="1090.00" stroke="#000" stroke-width="2.6"/>
<line x1="1020.00" y1="1090.00" x2="1091.50" y2="1090.00" stroke="#000" stroke-width="2.6"/>
<line x1="1101.30" y1="1090.00" x2="1173.30" y2="1090.00" stroke="#000" stroke-width="2.6"/>
<text x="975.60" y="1114.00" text-anchor="middle">Ctr</text>
<text x="1056.00" y="1114.00" text-anchor="middle">Δ-UP</text>
<text x="1137.00" y="1114.00" text-anchor="middle">Δ-DOWN</text>
<line x1="731.40" y1="1174.30" x2="731.40" y2="1478.90" stroke="#000" stroke-width="2.6"/>
<line x1="723.60" y1="1477.60" x2="731.40" y2="1477.60" stroke="#000" stroke-width="2.6"/>
<text x="713.80" y="1484.40" text-anchor="end">0</text>
<line x1="723.60" y1="1401.72" x2="731.40" y2="1401.72" stroke="#000" stroke-width="2.6"/>
<text x="713.80" y="1408.52" text-anchor="end">100</text>
<line x1="723.60" y1="1325.84" x2="731.40" y2="1325.84" stroke="#000" stroke-width="2.6"/>
<text x="713.80" y="1332.64" text-anchor="end">200</text>
<line x1="723.60" y1="1249.96" x2="731.40" y2="1249.96" stroke="#000" stroke-width="2.6"/>
<text x="713.80" y="1256.76" text-anchor="end">300</text>
<line x1="723.60" y1="1174.08" x2="731.40" y2="1174.08" stroke="#000" stroke-width="2.6"/>
<text x="713.80" y="1180.88" text-anchor="end">400</text>
<line x1="730.10" y1="1477.60" x2="1187.60" y2="1477.60" stroke="#000" stroke-width="2.6"/>
<line x1="777.00" y1="1477.60" x2="777.00" y2="1486.20" stroke="#000" stroke-width="2.6"/>
<line x1="867.70" y1="1477.60" x2="867.70" y2="1486.20" stroke="#000" stroke-width="2.6"/>
<line x1="958.60" y1="1477.60" x2="958.60" y2="1486.20" stroke="#000" stroke-width="2.6"/>
<line x1="1050.00" y1="1477.60" x2="1050.00" y2="1486.20" stroke="#000" stroke-width="2.6"/>
<line x1="1141.20" y1="1477.60" x2="1141.20" y2="1486.20" stroke="#000" stroke-width="2.6"/>
<text x="662.0" y="1327.4" text-anchor="middle" transform="rotate(-90 662.0 1327.4)">Serum CXCL10 (pg ml<tspan dy="-7" style="font-size:12.5px">−1</tspan><tspan dy="7">)</tspan></text>
<circle cx="757" cy="1444" r="6.6" fill="#000"/>
<circle cx="777" cy="1456.2" r="6.6" fill="#000"/>
<circle cx="797.2" cy="1446.8" r="6.6" fill="#000"/>
<line x1="746.00" y1="1448.90" x2="808.00" y2="1448.90" stroke="#000" stroke-width="2.4"/>
<line x1="777.00" y1="1446.00" x2="777.00" y2="1452.00" stroke="#000" stroke-width="2.2"/>
<line x1="761.50" y1="1446.00" x2="792.50" y2="1446.00" stroke="#000" stroke-width="2.2"/>
<line x1="761.50" y1="1452.00" x2="792.50" y2="1452.00" stroke="#000" stroke-width="2.2"/>
<rect x="861.00" y="1231.00" width="14.40" height="14.40" fill="#000"/>
<rect x="871.30" y="1294.70" width="14.40" height="14.40" fill="#000"/>
<rect x="850.80" y="1310.10" width="14.40" height="14.40" fill="#000"/>
<line x1="836.40" y1="1285.40" x2="899.00" y2="1285.40" stroke="#000" stroke-width="2.4"/>
<line x1="867.70" y1="1261.20" x2="867.70" y2="1310.50" stroke="#000" stroke-width="2.2"/>
<line x1="851.80" y1="1261.20" x2="883.60" y2="1261.20" stroke="#000" stroke-width="2.2"/>
<line x1="851.80" y1="1310.50" x2="883.60" y2="1310.50" stroke="#000" stroke-width="2.2"/>
<path d="M930.4 1428.7L938.0 1415.3L945.6 1428.7Z" fill="#bebebe"/>
<path d="M951.5 1449.0L959.1 1435.6L966.7 1449.0Z" fill="#bebebe"/>
<path d="M971.7 1443.6L979.3 1430.2L986.9 1443.6Z" fill="#bebebe"/>
<line x1="927.80" y1="1432.80" x2="990.00" y2="1432.80" stroke="#000" stroke-width="2.4"/>
<line x1="958.90" y1="1427.40" x2="958.90" y2="1438.70" stroke="#000" stroke-width="2.2"/>
<line x1="943.40" y1="1427.40" x2="974.40" y2="1427.40" stroke="#000" stroke-width="2.2"/>
<line x1="943.40" y1="1438.70" x2="974.40" y2="1438.70" stroke="#000" stroke-width="2.2"/>
<path d="M1022.2 1428.5L1029.8 1441.9L1037.4 1428.5Z" fill="#f58c8c"/>
<path d="M1042.4 1448.7L1050.0 1462.1L1057.6 1448.7Z" fill="#f58c8c"/>
<path d="M1063.2 1436.0L1070.8 1449.4L1078.4 1436.0Z" fill="#f58c8c"/>
<line x1="1019.00" y1="1444.70" x2="1081.00" y2="1444.70" stroke="#000" stroke-width="2.4"/>
<line x1="1050.00" y1="1438.70" x2="1050.00" y2="1450.30" stroke="#000" stroke-width="2.2"/>
<line x1="1034.60" y1="1438.70" x2="1065.40" y2="1438.70" stroke="#000" stroke-width="2.2"/>
<line x1="1034.60" y1="1450.30" x2="1065.40" y2="1450.30" stroke="#000" stroke-width="2.2"/>
<path d="M1130.4 1338.0L1139.4 1347.0L1130.4 1356.0L1121.4 1347.0Z" fill="#a0d7db"/>
<path d="M1151.2 1355.5L1160.2 1364.5L1151.2 1373.5L1142.2 1364.5Z" fill="#a0d7db"/>
<path d="M1140.9 1383.9L1149.9 1392.9L1140.9 1401.9L1131.9 1392.9Z" fill="#a0d7db"/>
<line x1="1110.20" y1="1368.00" x2="1172.20" y2="1368.00" stroke="#000" stroke-width="2.4"/>
<line x1="1141.20" y1="1355.10" x2="1141.20" y2="1381.50" stroke="#000" stroke-width="2.2"/>
<line x1="1125.60" y1="1355.10" x2="1156.80" y2="1355.10" stroke="#000" stroke-width="2.2"/>
<line x1="1125.60" y1="1381.50" x2="1156.80" y2="1381.50" stroke="#000" stroke-width="2.2"/>
<path d="M961.0 1257.6V1249.8H1143.1V1257.6" stroke="#000" stroke-width="2.8" fill="none"/>
<text x="1045.25" y="1245.64" style="font-size:20.5px" text-anchor="middle" letter-spacing="0.9">*</text>
<path d="M1050.0 1317.5V1310.0H1143.1V1317.5" stroke="#000" stroke-width="2.8" fill="none"/>
<text x="1095.35" y="1306.35" style="font-size:20.5px" text-anchor="middle" letter-spacing="0.9">*</text>
<text x="782.00" y="1503.00" text-anchor="end" transform="rotate(-45 782.00 1503.00)">C57BL/6</text>
<text x="876.50" y="1503.00" text-anchor="end" transform="rotate(-45 876.50 1503.00)">A20–/–</text>
<text x="964.00" y="1503.00" text-anchor="end" transform="rotate(-45 964.00 1503.00)">CTR</text>
<text x="1056.50" y="1503.00" text-anchor="end" transform="rotate(-45 1056.50 1503.00)">Δ-UP</text>
<text x="1146.00" y="1503.00" text-anchor="end" transform="rotate(-45 1146.00 1503.00)">Δ-DOWN</text>
</svg></body></html>
